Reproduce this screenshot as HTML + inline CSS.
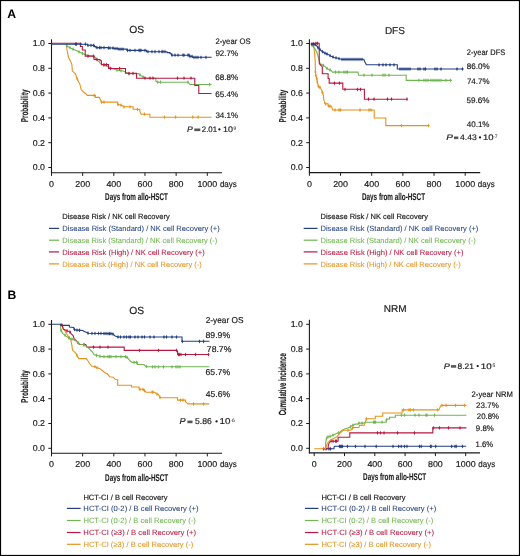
<!DOCTYPE html><html><head><meta charset="utf-8"><style>html,body{margin:0;padding:0;background:#fff;}svg{display:block;-webkit-font-smoothing:antialiased;will-change:transform;text-rendering:geometricPrecision;}</style></head><body>
<svg width="520" height="556" viewBox="0 0 520 556" font-family='"Liberation Sans", sans-serif'>
<rect x="0" y="0" width="520" height="556" fill="#fff"/>
<rect x="0.5" y="0.5" width="519" height="555" fill="none" stroke="#000" stroke-width="1.2"/>
<text x="7.2" y="17.8" font-size="12.2" font-weight="bold" fill="#000">A</text>
<text x="7.6" y="298.9" font-size="12.2" font-weight="bold" fill="#000">B</text>
<text transform="translate(136.80,33.00) scale(1.0000,1)" font-size="10.30" text-anchor="middle" fill="#1a1a1a" stroke="#1a1a1a" stroke-width="0.17" >OS</text>
<text transform="translate(394.90,33.80) scale(1.0000,1)" font-size="10.00" text-anchor="middle" fill="#1a1a1a" stroke="#1a1a1a" stroke-width="0.17" >DFS</text>
<text transform="translate(136.80,314.30) scale(1.0000,1)" font-size="10.30" text-anchor="middle" fill="#1a1a1a" stroke="#1a1a1a" stroke-width="0.17" >OS</text>
<text transform="translate(395.10,311.70) scale(1.0000,1)" font-size="10.00" text-anchor="middle" fill="#1a1a1a" stroke="#1a1a1a" stroke-width="0.17" >NRM</text>
<line x1="51.5" y1="39.3" x2="51.5" y2="173.2" stroke="#1a1a1a" stroke-width="1.1"/>
<line x1="51.0" y1="172.7" x2="222.0" y2="172.7" stroke="#1a1a1a" stroke-width="1.1"/>
<line x1="48.3" y1="167.50" x2="51.5" y2="167.50" stroke="#1a1a1a" stroke-width="1"/>
<text transform="translate(45.00,170.35) scale(1.0256,1)" font-size="8.58" text-anchor="end" fill="#1a1a1a" stroke="#1a1a1a" stroke-width="0.17" >0.0</text>
<line x1="48.3" y1="142.70" x2="51.5" y2="142.70" stroke="#1a1a1a" stroke-width="1"/>
<text transform="translate(45.00,145.55) scale(1.0256,1)" font-size="8.58" text-anchor="end" fill="#1a1a1a" stroke="#1a1a1a" stroke-width="0.17" >0.2</text>
<line x1="48.3" y1="117.90" x2="51.5" y2="117.90" stroke="#1a1a1a" stroke-width="1"/>
<text transform="translate(45.00,120.75) scale(1.0256,1)" font-size="8.58" text-anchor="end" fill="#1a1a1a" stroke="#1a1a1a" stroke-width="0.17" >0.4</text>
<line x1="48.3" y1="93.10" x2="51.5" y2="93.10" stroke="#1a1a1a" stroke-width="1"/>
<text transform="translate(45.00,95.95) scale(1.0256,1)" font-size="8.58" text-anchor="end" fill="#1a1a1a" stroke="#1a1a1a" stroke-width="0.17" >0.6</text>
<line x1="48.3" y1="68.30" x2="51.5" y2="68.30" stroke="#1a1a1a" stroke-width="1"/>
<text transform="translate(45.00,71.15) scale(1.0256,1)" font-size="8.58" text-anchor="end" fill="#1a1a1a" stroke="#1a1a1a" stroke-width="0.17" >0.8</text>
<line x1="48.3" y1="43.50" x2="51.5" y2="43.50" stroke="#1a1a1a" stroke-width="1"/>
<text transform="translate(45.00,46.35) scale(1.0256,1)" font-size="8.58" text-anchor="end" fill="#1a1a1a" stroke="#1a1a1a" stroke-width="0.17" >1.0</text>
<line x1="51.50" y1="172.7" x2="51.50" y2="175.89999999999998" stroke="#1a1a1a" stroke-width="1"/>
<text transform="translate(51.50,186.60) scale(1.0363,1)" font-size="8.59" text-anchor="middle" fill="#1a1a1a" stroke="#1a1a1a" stroke-width="0.17" >0</text>
<line x1="82.66" y1="172.7" x2="82.66" y2="175.89999999999998" stroke="#1a1a1a" stroke-width="1"/>
<text transform="translate(82.66,186.60) scale(1.0363,1)" font-size="8.59" text-anchor="middle" fill="#1a1a1a" stroke="#1a1a1a" stroke-width="0.17" >200</text>
<line x1="113.82" y1="172.7" x2="113.82" y2="175.89999999999998" stroke="#1a1a1a" stroke-width="1"/>
<text transform="translate(113.82,186.60) scale(1.0363,1)" font-size="8.59" text-anchor="middle" fill="#1a1a1a" stroke="#1a1a1a" stroke-width="0.17" >400</text>
<line x1="144.98" y1="172.7" x2="144.98" y2="175.89999999999998" stroke="#1a1a1a" stroke-width="1"/>
<text transform="translate(144.98,186.60) scale(1.0363,1)" font-size="8.59" text-anchor="middle" fill="#1a1a1a" stroke="#1a1a1a" stroke-width="0.17" >600</text>
<line x1="176.14" y1="172.7" x2="176.14" y2="175.89999999999998" stroke="#1a1a1a" stroke-width="1"/>
<text transform="translate(176.14,186.60) scale(1.0363,1)" font-size="8.59" text-anchor="middle" fill="#1a1a1a" stroke="#1a1a1a" stroke-width="0.17" >800</text>
<line x1="207.30" y1="172.7" x2="207.30" y2="175.89999999999998" stroke="#1a1a1a" stroke-width="1"/>
<text transform="translate(207.30,186.60) scale(1.0363,1)" font-size="8.59" text-anchor="middle" fill="#1a1a1a" stroke="#1a1a1a" stroke-width="0.17" >1000</text>
<text transform="translate(219.90,186.70) scale(0.9259,1)" font-size="8.64" text-anchor="start" fill="#1a1a1a" stroke="#1a1a1a" stroke-width="0.17" >days</text>
<text transform="translate(105.08,200.10) scale(0.6442,1)" font-size="9.80" font-weight="bold" fill="#1a1a1a" stroke="#1a1a1a" stroke-width="0.1">Days from allo-HSCT</text>
<text transform="translate(28.00,122.33) rotate(-90) scale(0.6359,1)" font-size="10.00" font-weight="bold" fill="#1a1a1a" stroke="#1a1a1a" stroke-width="0.15">Probability</text>
<line x1="309.4" y1="39.3" x2="309.4" y2="173.1" stroke="#1a1a1a" stroke-width="1.1"/>
<line x1="308.9" y1="172.6" x2="480.2" y2="172.6" stroke="#1a1a1a" stroke-width="1.1"/>
<line x1="306.2" y1="167.50" x2="309.4" y2="167.50" stroke="#1a1a1a" stroke-width="1"/>
<text transform="translate(302.90,170.35) scale(1.0256,1)" font-size="8.58" text-anchor="end" fill="#1a1a1a" stroke="#1a1a1a" stroke-width="0.17" >0.0</text>
<line x1="306.2" y1="142.70" x2="309.4" y2="142.70" stroke="#1a1a1a" stroke-width="1"/>
<text transform="translate(302.90,145.55) scale(1.0256,1)" font-size="8.58" text-anchor="end" fill="#1a1a1a" stroke="#1a1a1a" stroke-width="0.17" >0.2</text>
<line x1="306.2" y1="117.90" x2="309.4" y2="117.90" stroke="#1a1a1a" stroke-width="1"/>
<text transform="translate(302.90,120.75) scale(1.0256,1)" font-size="8.58" text-anchor="end" fill="#1a1a1a" stroke="#1a1a1a" stroke-width="0.17" >0.4</text>
<line x1="306.2" y1="93.10" x2="309.4" y2="93.10" stroke="#1a1a1a" stroke-width="1"/>
<text transform="translate(302.90,95.95) scale(1.0256,1)" font-size="8.58" text-anchor="end" fill="#1a1a1a" stroke="#1a1a1a" stroke-width="0.17" >0.6</text>
<line x1="306.2" y1="68.30" x2="309.4" y2="68.30" stroke="#1a1a1a" stroke-width="1"/>
<text transform="translate(302.90,71.15) scale(1.0256,1)" font-size="8.58" text-anchor="end" fill="#1a1a1a" stroke="#1a1a1a" stroke-width="0.17" >0.8</text>
<line x1="306.2" y1="43.50" x2="309.4" y2="43.50" stroke="#1a1a1a" stroke-width="1"/>
<text transform="translate(302.90,46.35) scale(1.0256,1)" font-size="8.58" text-anchor="end" fill="#1a1a1a" stroke="#1a1a1a" stroke-width="0.17" >1.0</text>
<line x1="309.40" y1="172.6" x2="309.40" y2="175.79999999999998" stroke="#1a1a1a" stroke-width="1"/>
<text transform="translate(309.40,186.50) scale(1.0363,1)" font-size="8.59" text-anchor="middle" fill="#1a1a1a" stroke="#1a1a1a" stroke-width="0.17" >0</text>
<line x1="340.56" y1="172.6" x2="340.56" y2="175.79999999999998" stroke="#1a1a1a" stroke-width="1"/>
<text transform="translate(340.56,186.50) scale(1.0363,1)" font-size="8.59" text-anchor="middle" fill="#1a1a1a" stroke="#1a1a1a" stroke-width="0.17" >200</text>
<line x1="371.72" y1="172.6" x2="371.72" y2="175.79999999999998" stroke="#1a1a1a" stroke-width="1"/>
<text transform="translate(371.72,186.50) scale(1.0363,1)" font-size="8.59" text-anchor="middle" fill="#1a1a1a" stroke="#1a1a1a" stroke-width="0.17" >400</text>
<line x1="402.88" y1="172.6" x2="402.88" y2="175.79999999999998" stroke="#1a1a1a" stroke-width="1"/>
<text transform="translate(402.88,186.50) scale(1.0363,1)" font-size="8.59" text-anchor="middle" fill="#1a1a1a" stroke="#1a1a1a" stroke-width="0.17" >600</text>
<line x1="434.04" y1="172.6" x2="434.04" y2="175.79999999999998" stroke="#1a1a1a" stroke-width="1"/>
<text transform="translate(434.04,186.50) scale(1.0363,1)" font-size="8.59" text-anchor="middle" fill="#1a1a1a" stroke="#1a1a1a" stroke-width="0.17" >800</text>
<line x1="465.20" y1="172.6" x2="465.20" y2="175.79999999999998" stroke="#1a1a1a" stroke-width="1"/>
<text transform="translate(465.20,186.50) scale(1.0363,1)" font-size="8.59" text-anchor="middle" fill="#1a1a1a" stroke="#1a1a1a" stroke-width="0.17" >1000</text>
<text transform="translate(477.80,186.60) scale(0.9259,1)" font-size="8.64" text-anchor="start" fill="#1a1a1a" stroke="#1a1a1a" stroke-width="0.17" >days</text>
<text transform="translate(361.98,200.30) scale(0.6473,1)" font-size="9.80" font-weight="bold" fill="#1a1a1a" stroke="#1a1a1a" stroke-width="0.1">Days from allo-HSCT</text>
<text transform="translate(286.00,122.53) rotate(-90) scale(0.6359,1)" font-size="10.00" font-weight="bold" fill="#1a1a1a" stroke="#1a1a1a" stroke-width="0.15">Probability</text>
<line x1="51.5" y1="320.0" x2="51.5" y2="453.7" stroke="#1a1a1a" stroke-width="1.1"/>
<line x1="51.0" y1="453.2" x2="222.0" y2="453.2" stroke="#1a1a1a" stroke-width="1.1"/>
<line x1="48.3" y1="448.30" x2="51.5" y2="448.30" stroke="#1a1a1a" stroke-width="1"/>
<text transform="translate(45.00,451.15) scale(1.0256,1)" font-size="8.58" text-anchor="end" fill="#1a1a1a" stroke="#1a1a1a" stroke-width="0.17" >0.0</text>
<line x1="48.3" y1="423.50" x2="51.5" y2="423.50" stroke="#1a1a1a" stroke-width="1"/>
<text transform="translate(45.00,426.35) scale(1.0256,1)" font-size="8.58" text-anchor="end" fill="#1a1a1a" stroke="#1a1a1a" stroke-width="0.17" >0.2</text>
<line x1="48.3" y1="398.70" x2="51.5" y2="398.70" stroke="#1a1a1a" stroke-width="1"/>
<text transform="translate(45.00,401.55) scale(1.0256,1)" font-size="8.58" text-anchor="end" fill="#1a1a1a" stroke="#1a1a1a" stroke-width="0.17" >0.4</text>
<line x1="48.3" y1="373.90" x2="51.5" y2="373.90" stroke="#1a1a1a" stroke-width="1"/>
<text transform="translate(45.00,376.75) scale(1.0256,1)" font-size="8.58" text-anchor="end" fill="#1a1a1a" stroke="#1a1a1a" stroke-width="0.17" >0.6</text>
<line x1="48.3" y1="349.10" x2="51.5" y2="349.10" stroke="#1a1a1a" stroke-width="1"/>
<text transform="translate(45.00,351.95) scale(1.0256,1)" font-size="8.58" text-anchor="end" fill="#1a1a1a" stroke="#1a1a1a" stroke-width="0.17" >0.8</text>
<line x1="48.3" y1="324.30" x2="51.5" y2="324.30" stroke="#1a1a1a" stroke-width="1"/>
<text transform="translate(45.00,327.15) scale(1.0256,1)" font-size="8.58" text-anchor="end" fill="#1a1a1a" stroke="#1a1a1a" stroke-width="0.17" >1.0</text>
<line x1="51.50" y1="453.2" x2="51.50" y2="456.4" stroke="#1a1a1a" stroke-width="1"/>
<text transform="translate(51.50,467.10) scale(1.0363,1)" font-size="8.59" text-anchor="middle" fill="#1a1a1a" stroke="#1a1a1a" stroke-width="0.17" >0</text>
<line x1="82.66" y1="453.2" x2="82.66" y2="456.4" stroke="#1a1a1a" stroke-width="1"/>
<text transform="translate(82.66,467.10) scale(1.0363,1)" font-size="8.59" text-anchor="middle" fill="#1a1a1a" stroke="#1a1a1a" stroke-width="0.17" >200</text>
<line x1="113.82" y1="453.2" x2="113.82" y2="456.4" stroke="#1a1a1a" stroke-width="1"/>
<text transform="translate(113.82,467.10) scale(1.0363,1)" font-size="8.59" text-anchor="middle" fill="#1a1a1a" stroke="#1a1a1a" stroke-width="0.17" >400</text>
<line x1="144.98" y1="453.2" x2="144.98" y2="456.4" stroke="#1a1a1a" stroke-width="1"/>
<text transform="translate(144.98,467.10) scale(1.0363,1)" font-size="8.59" text-anchor="middle" fill="#1a1a1a" stroke="#1a1a1a" stroke-width="0.17" >600</text>
<line x1="176.14" y1="453.2" x2="176.14" y2="456.4" stroke="#1a1a1a" stroke-width="1"/>
<text transform="translate(176.14,467.10) scale(1.0363,1)" font-size="8.59" text-anchor="middle" fill="#1a1a1a" stroke="#1a1a1a" stroke-width="0.17" >800</text>
<line x1="207.30" y1="453.2" x2="207.30" y2="456.4" stroke="#1a1a1a" stroke-width="1"/>
<text transform="translate(207.30,467.10) scale(1.0363,1)" font-size="8.59" text-anchor="middle" fill="#1a1a1a" stroke="#1a1a1a" stroke-width="0.17" >1000</text>
<text transform="translate(219.90,467.20) scale(0.9259,1)" font-size="8.64" text-anchor="start" fill="#1a1a1a" stroke="#1a1a1a" stroke-width="0.17" >days</text>
<text transform="translate(105.08,480.70) scale(0.6473,1)" font-size="9.80" font-weight="bold" fill="#1a1a1a" stroke="#1a1a1a" stroke-width="0.1">Days from allo-HSCT</text>
<text transform="translate(28.00,402.72) rotate(-90) scale(0.6280,1)" font-size="10.00" font-weight="bold" fill="#1a1a1a" stroke="#1a1a1a" stroke-width="0.15">Probability</text>
<line x1="309.4" y1="319.8" x2="309.4" y2="453.4" stroke="#1a1a1a" stroke-width="1.1"/>
<line x1="308.9" y1="452.9" x2="480.0" y2="452.9" stroke="#1a1a1a" stroke-width="1.1"/>
<line x1="306.2" y1="448.30" x2="309.4" y2="448.30" stroke="#1a1a1a" stroke-width="1"/>
<text transform="translate(302.90,451.15) scale(1.0256,1)" font-size="8.58" text-anchor="end" fill="#1a1a1a" stroke="#1a1a1a" stroke-width="0.17" >0.0</text>
<line x1="306.2" y1="423.50" x2="309.4" y2="423.50" stroke="#1a1a1a" stroke-width="1"/>
<text transform="translate(302.90,426.35) scale(1.0256,1)" font-size="8.58" text-anchor="end" fill="#1a1a1a" stroke="#1a1a1a" stroke-width="0.17" >0.2</text>
<line x1="306.2" y1="398.70" x2="309.4" y2="398.70" stroke="#1a1a1a" stroke-width="1"/>
<text transform="translate(302.90,401.55) scale(1.0256,1)" font-size="8.58" text-anchor="end" fill="#1a1a1a" stroke="#1a1a1a" stroke-width="0.17" >0.4</text>
<line x1="306.2" y1="373.90" x2="309.4" y2="373.90" stroke="#1a1a1a" stroke-width="1"/>
<text transform="translate(302.90,376.75) scale(1.0256,1)" font-size="8.58" text-anchor="end" fill="#1a1a1a" stroke="#1a1a1a" stroke-width="0.17" >0.6</text>
<line x1="306.2" y1="349.10" x2="309.4" y2="349.10" stroke="#1a1a1a" stroke-width="1"/>
<text transform="translate(302.90,351.95) scale(1.0256,1)" font-size="8.58" text-anchor="end" fill="#1a1a1a" stroke="#1a1a1a" stroke-width="0.17" >0.8</text>
<line x1="306.2" y1="324.30" x2="309.4" y2="324.30" stroke="#1a1a1a" stroke-width="1"/>
<text transform="translate(302.90,327.15) scale(1.0256,1)" font-size="8.58" text-anchor="end" fill="#1a1a1a" stroke="#1a1a1a" stroke-width="0.17" >1.0</text>
<line x1="314.20" y1="452.9" x2="314.20" y2="456.09999999999997" stroke="#1a1a1a" stroke-width="1"/>
<text transform="translate(314.20,466.80) scale(1.0363,1)" font-size="8.59" text-anchor="middle" fill="#1a1a1a" stroke="#1a1a1a" stroke-width="0.17" >0</text>
<line x1="344.50" y1="452.9" x2="344.50" y2="456.09999999999997" stroke="#1a1a1a" stroke-width="1"/>
<text transform="translate(344.50,466.80) scale(1.0363,1)" font-size="8.59" text-anchor="middle" fill="#1a1a1a" stroke="#1a1a1a" stroke-width="0.17" >200</text>
<line x1="374.80" y1="452.9" x2="374.80" y2="456.09999999999997" stroke="#1a1a1a" stroke-width="1"/>
<text transform="translate(374.80,466.80) scale(1.0363,1)" font-size="8.59" text-anchor="middle" fill="#1a1a1a" stroke="#1a1a1a" stroke-width="0.17" >400</text>
<line x1="405.10" y1="452.9" x2="405.10" y2="456.09999999999997" stroke="#1a1a1a" stroke-width="1"/>
<text transform="translate(405.10,466.80) scale(1.0363,1)" font-size="8.59" text-anchor="middle" fill="#1a1a1a" stroke="#1a1a1a" stroke-width="0.17" >600</text>
<line x1="435.40" y1="452.9" x2="435.40" y2="456.09999999999997" stroke="#1a1a1a" stroke-width="1"/>
<text transform="translate(435.40,466.80) scale(1.0363,1)" font-size="8.59" text-anchor="middle" fill="#1a1a1a" stroke="#1a1a1a" stroke-width="0.17" >800</text>
<line x1="465.70" y1="452.9" x2="465.70" y2="456.09999999999997" stroke="#1a1a1a" stroke-width="1"/>
<text transform="translate(465.70,466.80) scale(1.0363,1)" font-size="8.59" text-anchor="middle" fill="#1a1a1a" stroke="#1a1a1a" stroke-width="0.17" >1000</text>
<text transform="translate(478.30,466.90) scale(0.9259,1)" font-size="8.64" text-anchor="start" fill="#1a1a1a" stroke="#1a1a1a" stroke-width="0.17" >days</text>
<text transform="translate(363.08,480.40) scale(0.6473,1)" font-size="9.80" font-weight="bold" fill="#1a1a1a" stroke="#1a1a1a" stroke-width="0.1">Days from allo-HSCT</text>
<text transform="translate(285.90,415.25) rotate(-90) scale(0.5804,1)" font-size="10.40" font-weight="bold" fill="#1a1a1a" stroke="#1a1a1a" stroke-width="0.15">Cumulative incidence</text>
<path d="M66.00,44.00 L66.50,44.00 L67.00,50.00 L68.50,57.20 L70.40,61.00 L71.90,64.60 L72.30,70.80 L75.40,73.80 L77.30,79.20 L80.00,84.60 L81.20,89.60 L83.80,92.30 L86.50,94.20 L87.30,95.40 L95.40,95.40 L95.40,97.40 L99.40,97.40 L101.40,102.10 L117.60,102.10 L117.60,104.40 L122.30,105.50 L123.60,106.80 L133.10,106.80 L133.10,109.30 L139.80,109.30 L139.80,111.10 L141.10,114.20 L149.90,114.20 L149.90,117.20 L211.60,117.20" fill="none" stroke="#e4931e" stroke-width="1.1" stroke-linejoin="miter"/>
<path d="M77.30,77.10 L77.85,78.30 L78.20,79.20 L77.85,80.10 L77.30,81.30 L76.75,80.10 L76.40,79.20 L76.75,78.30Z" fill="#e4931e"/>
<path d="M94.20,93.30 L94.75,94.50 L95.10,95.40 L94.75,96.30 L94.20,97.50 L93.65,96.30 L93.30,95.40 L93.65,94.50Z" fill="#e4931e"/>
<path d="M101.50,100.00 L102.05,101.20 L102.40,102.10 L102.05,103.00 L101.50,104.20 L100.95,103.00 L100.60,102.10 L100.95,101.20Z" fill="#e4931e"/>
<path d="M104.00,100.00 L104.55,101.20 L104.90,102.10 L104.55,103.00 L104.00,104.20 L103.45,103.00 L103.10,102.10 L103.45,101.20Z" fill="#e4931e"/>
<path d="M118.00,102.39 L118.55,103.59 L118.90,104.49 L118.55,105.39 L118.00,106.59 L117.45,105.39 L117.10,104.49 L117.45,103.59Z" fill="#e4931e"/>
<path d="M121.00,103.10 L121.55,104.30 L121.90,105.20 L121.55,106.10 L121.00,107.30 L120.45,106.10 L120.10,105.20 L120.45,104.30Z" fill="#e4931e"/>
<path d="M124.00,104.70 L124.55,105.90 L124.90,106.80 L124.55,107.70 L124.00,108.90 L123.45,107.70 L123.10,106.80 L123.45,105.90Z" fill="#e4931e"/>
<path d="M130.00,104.70 L130.55,105.90 L130.90,106.80 L130.55,107.70 L130.00,108.90 L129.45,107.70 L129.10,106.80 L129.45,105.90Z" fill="#e4931e"/>
<path d="M137.50,107.20 L138.05,108.40 L138.40,109.30 L138.05,110.20 L137.50,111.40 L136.95,110.20 L136.60,109.30 L136.95,108.40Z" fill="#e4931e"/>
<path d="M144.50,112.10 L145.05,113.30 L145.40,114.20 L145.05,115.10 L144.50,116.30 L143.95,115.10 L143.60,114.20 L143.95,113.30Z" fill="#e4931e"/>
<path d="M164.50,115.10 L165.05,116.30 L165.40,117.20 L165.05,118.10 L164.50,119.30 L163.95,118.10 L163.60,117.20 L163.95,116.30Z" fill="#e4931e"/>
<path d="M175.60,115.10 L176.15,116.30 L176.50,117.20 L176.15,118.10 L175.60,119.30 L175.05,118.10 L174.70,117.20 L175.05,116.30Z" fill="#e4931e"/>
<path d="M192.80,115.10 L193.35,116.30 L193.70,117.20 L193.35,118.10 L192.80,119.30 L192.25,118.10 L191.90,117.20 L192.25,116.30Z" fill="#e4931e"/>
<path d="M198.20,115.10 L198.75,116.30 L199.10,117.20 L198.75,118.10 L198.20,119.30 L197.65,118.10 L197.30,117.20 L197.65,116.30Z" fill="#e4931e"/>
<path d="M66.00,44.00 L66.50,44.00 L66.50,45.70 L69.00,47.20 L72.30,48.90 L76.20,50.50 L80.00,52.30 L81.50,53.00 L84.60,54.50 L90.00,55.70 L94.20,56.50 L96.50,59.20 L100.40,63.40 L104.20,65.30 L109.60,67.20 L116.30,69.90 L124.00,71.30 L128.80,73.80 L136.50,73.60 L138.50,73.60 L142.30,76.60 L145.20,78.10 L155.80,78.20 L155.80,81.20 L157.80,82.20 L188.00,82.20 L190.00,84.50 L211.60,84.50" fill="none" stroke="#70b551" stroke-width="1.1" stroke-linejoin="miter"/>
<path d="M66.80,43.78 L67.35,44.98 L67.70,45.88 L67.35,46.78 L66.80,47.98 L66.25,46.78 L65.90,45.88 L66.25,44.98Z" fill="#70b551"/>
<path d="M70.00,45.62 L70.55,46.82 L70.90,47.72 L70.55,48.62 L70.00,49.82 L69.45,48.62 L69.10,47.72 L69.45,46.82Z" fill="#70b551"/>
<path d="M73.00,47.09 L73.55,48.29 L73.90,49.19 L73.55,50.09 L73.00,51.29 L72.45,50.09 L72.10,49.19 L72.45,48.29Z" fill="#70b551"/>
<path d="M79.00,49.73 L79.55,50.93 L79.90,51.83 L79.55,52.73 L79.00,53.93 L78.45,52.73 L78.10,51.83 L78.45,50.93Z" fill="#70b551"/>
<path d="M82.50,51.38 L83.05,52.58 L83.40,53.48 L83.05,54.38 L82.50,55.58 L81.95,54.38 L81.60,53.48 L81.95,52.58Z" fill="#70b551"/>
<path d="M96.00,56.51 L96.55,57.71 L96.90,58.61 L96.55,59.51 L96.00,60.71 L95.45,59.51 L95.10,58.61 L95.45,57.71Z" fill="#70b551"/>
<path d="M104.00,63.10 L104.55,64.30 L104.90,65.20 L104.55,66.10 L104.00,67.30 L103.45,66.10 L103.10,65.20 L103.45,64.30Z" fill="#70b551"/>
<path d="M117.00,67.93 L117.55,69.13 L117.90,70.03 L117.55,70.93 L117.00,72.13 L116.45,70.93 L116.10,70.03 L116.45,69.13Z" fill="#70b551"/>
<path d="M121.00,68.65 L121.55,69.85 L121.90,70.75 L121.55,71.65 L121.00,72.85 L120.45,71.65 L120.10,70.75 L120.45,69.85Z" fill="#70b551"/>
<path d="M129.00,71.69 L129.55,72.89 L129.90,73.79 L129.55,74.69 L129.00,75.89 L128.45,74.69 L128.10,73.79 L128.45,72.89Z" fill="#70b551"/>
<path d="M140.00,72.68 L140.55,73.88 L140.90,74.78 L140.55,75.68 L140.00,76.88 L139.45,75.68 L139.10,74.78 L139.45,73.88Z" fill="#70b551"/>
<path d="M143.00,74.86 L143.55,76.06 L143.90,76.96 L143.55,77.86 L143.00,79.06 L142.45,77.86 L142.10,76.96 L142.45,76.06Z" fill="#70b551"/>
<path d="M157.80,80.10 L158.35,81.30 L158.70,82.20 L158.35,83.10 L157.80,84.30 L157.25,83.10 L156.90,82.20 L157.25,81.30Z" fill="#70b551"/>
<path d="M160.50,80.10 L161.05,81.30 L161.40,82.20 L161.05,83.10 L160.50,84.30 L159.95,83.10 L159.60,82.20 L159.95,81.30Z" fill="#70b551"/>
<path d="M188.00,80.10 L188.55,81.30 L188.90,82.20 L188.55,83.10 L188.00,84.30 L187.45,83.10 L187.10,82.20 L187.45,81.30Z" fill="#70b551"/>
<path d="M209.60,82.40 L210.15,83.60 L210.50,84.50 L210.15,85.40 L209.60,86.60 L209.05,85.40 L208.70,84.50 L209.05,83.60Z" fill="#70b551"/>
<path d="M51.50,43.30 L80.40,43.30 L80.40,46.50 L82.30,46.50 L82.30,50.00 L85.20,50.00 L85.20,56.10 L94.00,56.10 L94.00,59.50 L100.00,59.50 L100.00,60.70 L101.40,60.70 L101.40,64.60 L108.50,64.60 L108.50,68.50 L125.50,68.50 L125.50,73.30 L136.50,73.30 L136.50,78.20 L194.80,78.20 L194.80,85.50 L198.80,85.50 L198.80,93.50 L211.60,93.50 L211.60,93.50" fill="none" stroke="#b8173f" stroke-width="1.1" stroke-linejoin="miter"/>
<path d="M88.00,54.00 L88.55,55.20 L88.90,56.10 L88.55,57.00 L88.00,58.20 L87.45,57.00 L87.10,56.10 L87.45,55.20Z" fill="#b8173f"/>
<path d="M93.50,54.00 L94.05,55.20 L94.40,56.10 L94.05,57.00 L93.50,58.20 L92.95,57.00 L92.60,56.10 L92.95,55.20Z" fill="#b8173f"/>
<path d="M97.00,57.40 L97.55,58.60 L97.90,59.50 L97.55,60.40 L97.00,61.60 L96.45,60.40 L96.10,59.50 L96.45,58.60Z" fill="#b8173f"/>
<path d="M104.00,62.50 L104.55,63.70 L104.90,64.60 L104.55,65.50 L104.00,66.70 L103.45,65.50 L103.10,64.60 L103.45,63.70Z" fill="#b8173f"/>
<path d="M106.50,62.50 L107.05,63.70 L107.40,64.60 L107.05,65.50 L106.50,66.70 L105.95,65.50 L105.60,64.60 L105.95,63.70Z" fill="#b8173f"/>
<path d="M110.50,66.40 L111.05,67.60 L111.40,68.50 L111.05,69.40 L110.50,70.60 L109.95,69.40 L109.60,68.50 L109.95,67.60Z" fill="#b8173f"/>
<path d="M119.60,66.40 L120.15,67.60 L120.50,68.50 L120.15,69.40 L119.60,70.60 L119.05,69.40 L118.70,68.50 L119.05,67.60Z" fill="#b8173f"/>
<path d="M129.00,71.20 L129.55,72.40 L129.90,73.30 L129.55,74.20 L129.00,75.40 L128.45,74.20 L128.10,73.30 L128.45,72.40Z" fill="#b8173f"/>
<path d="M133.00,71.20 L133.55,72.40 L133.90,73.30 L133.55,74.20 L133.00,75.40 L132.45,74.20 L132.10,73.30 L132.45,72.40Z" fill="#b8173f"/>
<path d="M145.00,76.10 L145.55,77.30 L145.90,78.20 L145.55,79.10 L145.00,80.30 L144.45,79.10 L144.10,78.20 L144.45,77.30Z" fill="#b8173f"/>
<path d="M150.00,76.10 L150.55,77.30 L150.90,78.20 L150.55,79.10 L150.00,80.30 L149.45,79.10 L149.10,78.20 L149.45,77.30Z" fill="#b8173f"/>
<path d="M153.00,76.10 L153.55,77.30 L153.90,78.20 L153.55,79.10 L153.00,80.30 L152.45,79.10 L152.10,78.20 L152.45,77.30Z" fill="#b8173f"/>
<path d="M177.50,76.10 L178.05,77.30 L178.40,78.20 L178.05,79.10 L177.50,80.30 L176.95,79.10 L176.60,78.20 L176.95,77.30Z" fill="#b8173f"/>
<path d="M184.00,76.10 L184.55,77.30 L184.90,78.20 L184.55,79.10 L184.00,80.30 L183.45,79.10 L183.10,78.20 L183.45,77.30Z" fill="#b8173f"/>
<path d="M191.00,76.10 L191.55,77.30 L191.90,78.20 L191.55,79.10 L191.00,80.30 L190.45,79.10 L190.10,78.20 L190.45,77.30Z" fill="#b8173f"/>
<path d="M51.50,44.20 L87.50,44.20 L87.50,45.30 L94.50,45.30 L94.50,46.60 L96.00,46.60 L96.00,47.60 L108.00,47.60 L108.00,48.00 L113.00,48.00 L113.00,48.50 L118.00,48.50 L118.00,49.10 L127.00,49.10 L127.00,50.40 L146.50,50.40 L146.50,51.70 L167.00,51.70 L167.00,52.60 L170.00,52.60 L170.00,53.80 L171.50,53.80 L171.50,55.20 L189.50,55.20 L189.50,56.40 L192.50,56.40 L192.50,57.30 L211.60,57.30 L211.60,57.30" fill="none" stroke="#233f80" stroke-width="1.1" stroke-linejoin="miter"/>
<path d="M75.40,42.10 L75.95,43.30 L76.30,44.20 L75.95,45.10 L75.40,46.30 L74.85,45.10 L74.50,44.20 L74.85,43.30Z" fill="#233f80"/>
<path d="M76.50,42.10 L77.05,43.30 L77.40,44.20 L77.05,45.10 L76.50,46.30 L75.95,45.10 L75.60,44.20 L75.95,43.30Z" fill="#233f80"/>
<path d="M80.80,42.10 L81.35,43.30 L81.70,44.20 L81.35,45.10 L80.80,46.30 L80.25,45.10 L79.90,44.20 L80.25,43.30Z" fill="#233f80"/>
<path d="M85.40,42.10 L85.95,43.30 L86.30,44.20 L85.95,45.10 L85.40,46.30 L84.85,45.10 L84.50,44.20 L84.85,43.30Z" fill="#233f80"/>
<path d="M88.00,43.20 L88.55,44.40 L88.90,45.30 L88.55,46.20 L88.00,47.40 L87.45,46.20 L87.10,45.30 L87.45,44.40Z" fill="#233f80"/>
<path d="M91.00,43.20 L91.55,44.40 L91.90,45.30 L91.55,46.20 L91.00,47.40 L90.45,46.20 L90.10,45.30 L90.45,44.40Z" fill="#233f80"/>
<path d="M93.50,43.20 L94.05,44.40 L94.40,45.30 L94.05,46.20 L93.50,47.40 L92.95,46.20 L92.60,45.30 L92.95,44.40Z" fill="#233f80"/>
<path d="M97.00,45.50 L97.55,46.70 L97.90,47.60 L97.55,48.50 L97.00,49.70 L96.45,48.50 L96.10,47.60 L96.45,46.70Z" fill="#233f80"/>
<path d="M99.50,45.50 L100.05,46.70 L100.40,47.60 L100.05,48.50 L99.50,49.70 L98.95,48.50 L98.60,47.60 L98.95,46.70Z" fill="#233f80"/>
<path d="M101.00,45.50 L101.55,46.70 L101.90,47.60 L101.55,48.50 L101.00,49.70 L100.45,48.50 L100.10,47.60 L100.45,46.70Z" fill="#233f80"/>
<path d="M104.00,45.50 L104.55,46.70 L104.90,47.60 L104.55,48.50 L104.00,49.70 L103.45,48.50 L103.10,47.60 L103.45,46.70Z" fill="#233f80"/>
<path d="M108.50,45.90 L109.05,47.10 L109.40,48.00 L109.05,48.90 L108.50,50.10 L107.95,48.90 L107.60,48.00 L107.95,47.10Z" fill="#233f80"/>
<path d="M110.00,45.90 L110.55,47.10 L110.90,48.00 L110.55,48.90 L110.00,50.10 L109.45,48.90 L109.10,48.00 L109.45,47.10Z" fill="#233f80"/>
<path d="M113.00,45.90 L113.55,47.10 L113.90,48.00 L113.55,48.90 L113.00,50.10 L112.45,48.90 L112.10,48.00 L112.45,47.10Z" fill="#233f80"/>
<path d="M115.00,46.40 L115.55,47.60 L115.90,48.50 L115.55,49.40 L115.00,50.60 L114.45,49.40 L114.10,48.50 L114.45,47.60Z" fill="#233f80"/>
<path d="M117.00,46.40 L117.55,47.60 L117.90,48.50 L117.55,49.40 L117.00,50.60 L116.45,49.40 L116.10,48.50 L116.45,47.60Z" fill="#233f80"/>
<path d="M119.00,47.00 L119.55,48.20 L119.90,49.10 L119.55,50.00 L119.00,51.20 L118.45,50.00 L118.10,49.10 L118.45,48.20Z" fill="#233f80"/>
<path d="M121.00,47.00 L121.55,48.20 L121.90,49.10 L121.55,50.00 L121.00,51.20 L120.45,50.00 L120.10,49.10 L120.45,48.20Z" fill="#233f80"/>
<path d="M123.00,47.00 L123.55,48.20 L123.90,49.10 L123.55,50.00 L123.00,51.20 L122.45,50.00 L122.10,49.10 L122.45,48.20Z" fill="#233f80"/>
<path d="M127.50,48.30 L128.05,49.50 L128.40,50.40 L128.05,51.30 L127.50,52.50 L126.95,51.30 L126.60,50.40 L126.95,49.50Z" fill="#233f80"/>
<path d="M130.00,48.30 L130.55,49.50 L130.90,50.40 L130.55,51.30 L130.00,52.50 L129.45,51.30 L129.10,50.40 L129.45,49.50Z" fill="#233f80"/>
<path d="M135.00,48.30 L135.55,49.50 L135.90,50.40 L135.55,51.30 L135.00,52.50 L134.45,51.30 L134.10,50.40 L134.45,49.50Z" fill="#233f80"/>
<path d="M139.00,48.30 L139.55,49.50 L139.90,50.40 L139.55,51.30 L139.00,52.50 L138.45,51.30 L138.10,50.40 L138.45,49.50Z" fill="#233f80"/>
<path d="M140.00,48.30 L140.55,49.50 L140.90,50.40 L140.55,51.30 L140.00,52.50 L139.45,51.30 L139.10,50.40 L139.45,49.50Z" fill="#233f80"/>
<path d="M141.00,48.30 L141.55,49.50 L141.90,50.40 L141.55,51.30 L141.00,52.50 L140.45,51.30 L140.10,50.40 L140.45,49.50Z" fill="#233f80"/>
<path d="M145.00,48.30 L145.55,49.50 L145.90,50.40 L145.55,51.30 L145.00,52.50 L144.45,51.30 L144.10,50.40 L144.45,49.50Z" fill="#233f80"/>
<path d="M148.00,49.60 L148.55,50.80 L148.90,51.70 L148.55,52.60 L148.00,53.80 L147.45,52.60 L147.10,51.70 L147.45,50.80Z" fill="#233f80"/>
<path d="M152.00,49.60 L152.55,50.80 L152.90,51.70 L152.55,52.60 L152.00,53.80 L151.45,52.60 L151.10,51.70 L151.45,50.80Z" fill="#233f80"/>
<path d="M155.00,49.60 L155.55,50.80 L155.90,51.70 L155.55,52.60 L155.00,53.80 L154.45,52.60 L154.10,51.70 L154.45,50.80Z" fill="#233f80"/>
<path d="M159.00,49.60 L159.55,50.80 L159.90,51.70 L159.55,52.60 L159.00,53.80 L158.45,52.60 L158.10,51.70 L158.45,50.80Z" fill="#233f80"/>
<path d="M162.00,49.60 L162.55,50.80 L162.90,51.70 L162.55,52.60 L162.00,53.80 L161.45,52.60 L161.10,51.70 L161.45,50.80Z" fill="#233f80"/>
<path d="M163.00,49.60 L163.55,50.80 L163.90,51.70 L163.55,52.60 L163.00,53.80 L162.45,52.60 L162.10,51.70 L162.45,50.80Z" fill="#233f80"/>
<path d="M165.00,49.60 L165.55,50.80 L165.90,51.70 L165.55,52.60 L165.00,53.80 L164.45,52.60 L164.10,51.70 L164.45,50.80Z" fill="#233f80"/>
<path d="M172.00,53.10 L172.55,54.30 L172.90,55.20 L172.55,56.10 L172.00,57.30 L171.45,56.10 L171.10,55.20 L171.45,54.30Z" fill="#233f80"/>
<path d="M175.00,53.10 L175.55,54.30 L175.90,55.20 L175.55,56.10 L175.00,57.30 L174.45,56.10 L174.10,55.20 L174.45,54.30Z" fill="#233f80"/>
<path d="M178.00,53.10 L178.55,54.30 L178.90,55.20 L178.55,56.10 L178.00,57.30 L177.45,56.10 L177.10,55.20 L177.45,54.30Z" fill="#233f80"/>
<path d="M183.00,53.10 L183.55,54.30 L183.90,55.20 L183.55,56.10 L183.00,57.30 L182.45,56.10 L182.10,55.20 L182.45,54.30Z" fill="#233f80"/>
<path d="M184.00,53.10 L184.55,54.30 L184.90,55.20 L184.55,56.10 L184.00,57.30 L183.45,56.10 L183.10,55.20 L183.45,54.30Z" fill="#233f80"/>
<path d="M188.00,53.10 L188.55,54.30 L188.90,55.20 L188.55,56.10 L188.00,57.30 L187.45,56.10 L187.10,55.20 L187.45,54.30Z" fill="#233f80"/>
<path d="M189.00,53.10 L189.55,54.30 L189.90,55.20 L189.55,56.10 L189.00,57.30 L188.45,56.10 L188.10,55.20 L188.45,54.30Z" fill="#233f80"/>
<path d="M190.00,54.30 L190.55,55.50 L190.90,56.40 L190.55,57.30 L190.00,58.50 L189.45,57.30 L189.10,56.40 L189.45,55.50Z" fill="#233f80"/>
<path d="M192.00,54.30 L192.55,55.50 L192.90,56.40 L192.55,57.30 L192.00,58.50 L191.45,57.30 L191.10,56.40 L191.45,55.50Z" fill="#233f80"/>
<path d="M194.00,55.20 L194.55,56.40 L194.90,57.30 L194.55,58.20 L194.00,59.40 L193.45,58.20 L193.10,57.30 L193.45,56.40Z" fill="#233f80"/>
<path d="M196.00,55.20 L196.55,56.40 L196.90,57.30 L196.55,58.20 L196.00,59.40 L195.45,58.20 L195.10,57.30 L195.45,56.40Z" fill="#233f80"/>
<path d="M198.00,55.20 L198.55,56.40 L198.90,57.30 L198.55,58.20 L198.00,59.40 L197.45,58.20 L197.10,57.30 L197.45,56.40Z" fill="#233f80"/>
<path d="M201.00,55.20 L201.55,56.40 L201.90,57.30 L201.55,58.20 L201.00,59.40 L200.45,58.20 L200.10,57.30 L200.45,56.40Z" fill="#233f80"/>
<path d="M206.00,55.20 L206.55,56.40 L206.90,57.30 L206.55,58.20 L206.00,59.40 L205.45,58.20 L205.10,57.30 L205.45,56.40Z" fill="#233f80"/>
<path d="M310.80,44.20 L311.00,44.20 L313.80,47.20 L314.60,53.40 L315.20,61.00 L315.40,71.50 L315.80,75.40 L316.90,78.50 L317.30,82.30 L318.50,86.20 L320.40,87.30 L321.50,90.00 L322.70,92.30 L323.50,96.20 L323.80,100.00 L325.00,103.80 L328.10,103.80 L328.10,106.20 L331.60,106.20 L332.50,110.00 L374.20,110.00 L374.20,118.00 L385.80,118.00 L385.80,125.60 L429.20,125.60" fill="none" stroke="#e4931e" stroke-width="1.1" stroke-linejoin="miter"/>
<path d="M315.40,69.90 L315.95,71.10 L316.30,72.00 L315.95,72.90 L315.40,74.10 L314.85,72.90 L314.50,72.00 L314.85,71.10Z" fill="#e4931e"/>
<path d="M315.80,73.40 L316.35,74.60 L316.70,75.50 L316.35,76.40 L315.80,77.60 L315.25,76.40 L314.90,75.50 L315.25,74.60Z" fill="#e4931e"/>
<path d="M316.70,76.40 L317.25,77.60 L317.60,78.50 L317.25,79.40 L316.70,80.60 L316.15,79.40 L315.80,78.50 L316.15,77.60Z" fill="#e4931e"/>
<path d="M317.40,80.10 L317.95,81.30 L318.30,82.20 L317.95,83.10 L317.40,84.30 L316.85,83.10 L316.50,82.20 L316.85,81.30Z" fill="#e4931e"/>
<path d="M318.30,84.30 L318.85,85.50 L319.20,86.40 L318.85,87.30 L318.30,88.50 L317.75,87.30 L317.40,86.40 L317.75,85.50Z" fill="#e4931e"/>
<path d="M319.80,85.30 L320.35,86.50 L320.70,87.40 L320.35,88.30 L319.80,89.50 L319.25,88.30 L318.90,87.40 L319.25,86.50Z" fill="#e4931e"/>
<path d="M322.30,90.50 L322.85,91.70 L323.20,92.60 L322.85,93.50 L322.30,94.70 L321.75,93.50 L321.40,92.60 L321.75,91.70Z" fill="#e4931e"/>
<path d="M325.80,101.70 L326.35,102.90 L326.70,103.80 L326.35,104.70 L325.80,105.90 L325.25,104.70 L324.90,103.80 L325.25,102.90Z" fill="#e4931e"/>
<path d="M329.00,104.10 L329.55,105.30 L329.90,106.20 L329.55,107.10 L329.00,108.30 L328.45,107.10 L328.10,106.20 L328.45,105.30Z" fill="#e4931e"/>
<path d="M330.00,104.10 L330.55,105.30 L330.90,106.20 L330.55,107.10 L330.00,108.30 L329.45,107.10 L329.10,106.20 L329.45,105.30Z" fill="#e4931e"/>
<path d="M335.00,107.90 L335.55,109.10 L335.90,110.00 L335.55,110.90 L335.00,112.10 L334.45,110.90 L334.10,110.00 L334.45,109.10Z" fill="#e4931e"/>
<path d="M339.00,107.90 L339.55,109.10 L339.90,110.00 L339.55,110.90 L339.00,112.10 L338.45,110.90 L338.10,110.00 L338.45,109.10Z" fill="#e4931e"/>
<path d="M340.50,107.90 L341.05,109.10 L341.40,110.00 L341.05,110.90 L340.50,112.10 L339.95,110.90 L339.60,110.00 L339.95,109.10Z" fill="#e4931e"/>
<path d="M360.00,107.90 L360.55,109.10 L360.90,110.00 L360.55,110.90 L360.00,112.10 L359.45,110.90 L359.10,110.00 L359.45,109.10Z" fill="#e4931e"/>
<path d="M369.00,107.90 L369.55,109.10 L369.90,110.00 L369.55,110.90 L369.00,112.10 L368.45,110.90 L368.10,110.00 L368.45,109.10Z" fill="#e4931e"/>
<path d="M371.00,107.90 L371.55,109.10 L371.90,110.00 L371.55,110.90 L371.00,112.10 L370.45,110.90 L370.10,110.00 L370.45,109.10Z" fill="#e4931e"/>
<path d="M401.50,123.50 L402.05,124.70 L402.40,125.60 L402.05,126.50 L401.50,127.70 L400.95,126.50 L400.60,125.60 L400.95,124.70Z" fill="#e4931e"/>
<path d="M428.50,123.50 L429.05,124.70 L429.40,125.60 L429.05,126.50 L428.50,127.70 L427.95,126.50 L427.60,125.60 L427.95,124.70Z" fill="#e4931e"/>
<path d="M310.80,44.20 L311.00,44.20 L313.50,46.50 L315.80,50.30 L317.30,53.40 L318.50,58.00 L319.20,61.00 L320.00,63.50 L323.50,65.40 L325.80,67.30 L328.10,69.20 L331.20,70.40 L332.50,72.10 L358.00,72.10 L358.50,75.20 L406.20,75.20 L406.20,80.40 L451.80,80.40" fill="none" stroke="#70b551" stroke-width="1.1" stroke-linejoin="miter"/>
<path d="M312.00,43.02 L312.55,44.22 L312.90,45.12 L312.55,46.02 L312.00,47.22 L311.45,46.02 L311.10,45.12 L311.45,44.22Z" fill="#70b551"/>
<path d="M323.50,63.30 L324.05,64.50 L324.40,65.40 L324.05,66.30 L323.50,67.50 L322.95,66.30 L322.60,65.40 L322.95,64.50Z" fill="#70b551"/>
<path d="M327.00,66.19 L327.55,67.39 L327.90,68.29 L327.55,69.19 L327.00,70.39 L326.45,69.19 L326.10,68.29 L326.45,67.39Z" fill="#70b551"/>
<path d="M330.00,67.84 L330.55,69.04 L330.90,69.94 L330.55,70.84 L330.00,72.04 L329.45,70.84 L329.10,69.94 L329.45,69.04Z" fill="#70b551"/>
<path d="M335.50,70.00 L336.05,71.20 L336.40,72.10 L336.05,73.00 L335.50,74.20 L334.95,73.00 L334.60,72.10 L334.95,71.20Z" fill="#70b551"/>
<path d="M339.00,70.00 L339.55,71.20 L339.90,72.10 L339.55,73.00 L339.00,74.20 L338.45,73.00 L338.10,72.10 L338.45,71.20Z" fill="#70b551"/>
<path d="M344.00,70.00 L344.55,71.20 L344.90,72.10 L344.55,73.00 L344.00,74.20 L343.45,73.00 L343.10,72.10 L343.45,71.20Z" fill="#70b551"/>
<path d="M346.00,70.00 L346.55,71.20 L346.90,72.10 L346.55,73.00 L346.00,74.20 L345.45,73.00 L345.10,72.10 L345.45,71.20Z" fill="#70b551"/>
<path d="M347.50,70.00 L348.05,71.20 L348.40,72.10 L348.05,73.00 L347.50,74.20 L346.95,73.00 L346.60,72.10 L346.95,71.20Z" fill="#70b551"/>
<path d="M364.00,73.10 L364.55,74.30 L364.90,75.20 L364.55,76.10 L364.00,77.30 L363.45,76.10 L363.10,75.20 L363.45,74.30Z" fill="#70b551"/>
<path d="M372.00,73.10 L372.55,74.30 L372.90,75.20 L372.55,76.10 L372.00,77.30 L371.45,76.10 L371.10,75.20 L371.45,74.30Z" fill="#70b551"/>
<path d="M383.00,73.10 L383.55,74.30 L383.90,75.20 L383.55,76.10 L383.00,77.30 L382.45,76.10 L382.10,75.20 L382.45,74.30Z" fill="#70b551"/>
<path d="M385.00,73.10 L385.55,74.30 L385.90,75.20 L385.55,76.10 L385.00,77.30 L384.45,76.10 L384.10,75.20 L384.45,74.30Z" fill="#70b551"/>
<path d="M389.00,73.10 L389.55,74.30 L389.90,75.20 L389.55,76.10 L389.00,77.30 L388.45,76.10 L388.10,75.20 L388.45,74.30Z" fill="#70b551"/>
<path d="M419.00,78.30 L419.55,79.50 L419.90,80.40 L419.55,81.30 L419.00,82.50 L418.45,81.30 L418.10,80.40 L418.45,79.50Z" fill="#70b551"/>
<path d="M424.00,78.30 L424.55,79.50 L424.90,80.40 L424.55,81.30 L424.00,82.50 L423.45,81.30 L423.10,80.40 L423.45,79.50Z" fill="#70b551"/>
<path d="M426.00,78.30 L426.55,79.50 L426.90,80.40 L426.55,81.30 L426.00,82.50 L425.45,81.30 L425.10,80.40 L425.45,79.50Z" fill="#70b551"/>
<path d="M428.00,78.30 L428.55,79.50 L428.90,80.40 L428.55,81.30 L428.00,82.50 L427.45,81.30 L427.10,80.40 L427.45,79.50Z" fill="#70b551"/>
<path d="M431.00,78.30 L431.55,79.50 L431.90,80.40 L431.55,81.30 L431.00,82.50 L430.45,81.30 L430.10,80.40 L430.45,79.50Z" fill="#70b551"/>
<path d="M433.00,78.30 L433.55,79.50 L433.90,80.40 L433.55,81.30 L433.00,82.50 L432.45,81.30 L432.10,80.40 L432.45,79.50Z" fill="#70b551"/>
<path d="M435.00,78.30 L435.55,79.50 L435.90,80.40 L435.55,81.30 L435.00,82.50 L434.45,81.30 L434.10,80.40 L434.45,79.50Z" fill="#70b551"/>
<path d="M437.00,78.30 L437.55,79.50 L437.90,80.40 L437.55,81.30 L437.00,82.50 L436.45,81.30 L436.10,80.40 L436.45,79.50Z" fill="#70b551"/>
<path d="M439.00,78.30 L439.55,79.50 L439.90,80.40 L439.55,81.30 L439.00,82.50 L438.45,81.30 L438.10,80.40 L438.45,79.50Z" fill="#70b551"/>
<path d="M441.00,78.30 L441.55,79.50 L441.90,80.40 L441.55,81.30 L441.00,82.50 L440.45,81.30 L440.10,80.40 L440.45,79.50Z" fill="#70b551"/>
<path d="M446.00,78.30 L446.55,79.50 L446.90,80.40 L446.55,81.30 L446.00,82.50 L445.45,81.30 L445.10,80.40 L445.45,79.50Z" fill="#70b551"/>
<path d="M450.50,78.30 L451.05,79.50 L451.40,80.40 L451.05,81.30 L450.50,82.50 L449.95,81.30 L449.60,80.40 L449.95,79.50Z" fill="#70b551"/>
<path d="M310.80,43.30 L319.20,43.30 L319.30,63.50 L320.00,64.50 L322.30,66.90 L322.30,73.80 L328.10,73.80 L328.10,78.50 L329.20,78.50 L329.20,83.10 L342.80,83.10 L342.80,89.30 L364.40,89.30 L364.40,99.20 L407.20,99.20" fill="none" stroke="#b8173f" stroke-width="1.1" stroke-linejoin="miter"/>
<path d="M316.00,41.20 L316.55,42.40 L316.90,43.30 L316.55,44.20 L316.00,45.40 L315.45,44.20 L315.10,43.30 L315.45,42.40Z" fill="#b8173f"/>
<path d="M317.50,41.20 L318.05,42.40 L318.40,43.30 L318.05,44.20 L317.50,45.40 L316.95,44.20 L316.60,43.30 L316.95,42.40Z" fill="#b8173f"/>
<path d="M334.50,81.00 L335.05,82.20 L335.40,83.10 L335.05,84.00 L334.50,85.20 L333.95,84.00 L333.60,83.10 L333.95,82.20Z" fill="#b8173f"/>
<path d="M339.50,81.00 L340.05,82.20 L340.40,83.10 L340.05,84.00 L339.50,85.20 L338.95,84.00 L338.60,83.10 L338.95,82.20Z" fill="#b8173f"/>
<path d="M345.00,87.20 L345.55,88.40 L345.90,89.30 L345.55,90.20 L345.00,91.40 L344.45,90.20 L344.10,89.30 L344.45,88.40Z" fill="#b8173f"/>
<path d="M357.50,87.20 L358.05,88.40 L358.40,89.30 L358.05,90.20 L357.50,91.40 L356.95,90.20 L356.60,89.30 L356.95,88.40Z" fill="#b8173f"/>
<path d="M360.50,87.20 L361.05,88.40 L361.40,89.30 L361.05,90.20 L360.50,91.40 L359.95,90.20 L359.60,89.30 L359.95,88.40Z" fill="#b8173f"/>
<path d="M368.50,97.10 L369.05,98.30 L369.40,99.20 L369.05,100.10 L368.50,101.30 L367.95,100.10 L367.60,99.20 L367.95,98.30Z" fill="#b8173f"/>
<path d="M374.00,97.10 L374.55,98.30 L374.90,99.20 L374.55,100.10 L374.00,101.30 L373.45,100.10 L373.10,99.20 L373.45,98.30Z" fill="#b8173f"/>
<path d="M387.50,97.10 L388.05,98.30 L388.40,99.20 L388.05,100.10 L387.50,101.30 L386.95,100.10 L386.60,99.20 L386.95,98.30Z" fill="#b8173f"/>
<path d="M391.50,97.10 L392.05,98.30 L392.40,99.20 L392.05,100.10 L391.50,101.30 L390.95,100.10 L390.60,99.20 L390.95,98.30Z" fill="#b8173f"/>
<path d="M407.00,97.10 L407.55,98.30 L407.90,99.20 L407.55,100.10 L407.00,101.30 L406.45,100.10 L406.10,99.20 L406.45,98.30Z" fill="#b8173f"/>
<path d="M310.80,44.20 L314.50,44.20 L316.50,45.70 L318.80,48.60 L321.20,50.60 L324.20,52.80 L328.00,54.40 L331.20,56.30 L334.20,57.50 L338.00,58.30 L341.20,59.30 L363.80,59.30 L364.80,61.70 L366.30,64.80 L397.30,64.80 L397.30,69.00 L463.50,69.00" fill="none" stroke="#233f80" stroke-width="1.1" stroke-linejoin="miter"/>
<path d="M312.00,42.10 L312.55,43.30 L312.90,44.20 L312.55,45.10 L312.00,46.30 L311.45,45.10 L311.10,44.20 L311.45,43.30Z" fill="#233f80"/>
<path d="M313.50,42.10 L314.05,43.30 L314.40,44.20 L314.05,45.10 L313.50,46.30 L312.95,45.10 L312.60,44.20 L312.95,43.30Z" fill="#233f80"/>
<path d="M315.00,42.48 L315.55,43.68 L315.90,44.58 L315.55,45.48 L315.00,46.68 L314.45,45.48 L314.10,44.58 L314.45,43.68Z" fill="#233f80"/>
<path d="M318.00,45.49 L318.55,46.69 L318.90,47.59 L318.55,48.49 L318.00,49.69 L317.45,48.49 L317.10,47.59 L317.45,46.69Z" fill="#233f80"/>
<path d="M320.00,47.50 L320.55,48.70 L320.90,49.60 L320.55,50.50 L320.00,51.70 L319.45,50.50 L319.10,49.60 L319.45,48.70Z" fill="#233f80"/>
<path d="M322.50,49.45 L323.05,50.65 L323.40,51.55 L323.05,52.45 L322.50,53.65 L321.95,52.45 L321.60,51.55 L321.95,50.65Z" fill="#233f80"/>
<path d="M325.00,51.04 L325.55,52.24 L325.90,53.14 L325.55,54.04 L325.00,55.24 L324.45,54.04 L324.10,53.14 L324.45,52.24Z" fill="#233f80"/>
<path d="M327.00,51.88 L327.55,53.08 L327.90,53.98 L327.55,54.88 L327.00,56.08 L326.45,54.88 L326.10,53.98 L326.45,53.08Z" fill="#233f80"/>
<path d="M330.00,53.49 L330.55,54.69 L330.90,55.59 L330.55,56.49 L330.00,57.69 L329.45,56.49 L329.10,55.59 L329.45,54.69Z" fill="#233f80"/>
<path d="M333.00,54.92 L333.55,56.12 L333.90,57.02 L333.55,57.92 L333.00,59.12 L332.45,57.92 L332.10,57.02 L332.45,56.12Z" fill="#233f80"/>
<path d="M336.00,55.78 L336.55,56.98 L336.90,57.88 L336.55,58.78 L336.00,59.98 L335.45,58.78 L335.10,57.88 L335.45,56.98Z" fill="#233f80"/>
<path d="M339.00,56.51 L339.55,57.71 L339.90,58.61 L339.55,59.51 L339.00,60.71 L338.45,59.51 L338.10,58.61 L338.45,57.71Z" fill="#233f80"/>
<path d="M342.00,57.20 L342.55,58.40 L342.90,59.30 L342.55,60.20 L342.00,61.40 L341.45,60.20 L341.10,59.30 L341.45,58.40Z" fill="#233f80"/>
<path d="M344.00,57.20 L344.55,58.40 L344.90,59.30 L344.55,60.20 L344.00,61.40 L343.45,60.20 L343.10,59.30 L343.45,58.40Z" fill="#233f80"/>
<path d="M346.00,57.20 L346.55,58.40 L346.90,59.30 L346.55,60.20 L346.00,61.40 L345.45,60.20 L345.10,59.30 L345.45,58.40Z" fill="#233f80"/>
<path d="M348.00,57.20 L348.55,58.40 L348.90,59.30 L348.55,60.20 L348.00,61.40 L347.45,60.20 L347.10,59.30 L347.45,58.40Z" fill="#233f80"/>
<path d="M350.00,57.20 L350.55,58.40 L350.90,59.30 L350.55,60.20 L350.00,61.40 L349.45,60.20 L349.10,59.30 L349.45,58.40Z" fill="#233f80"/>
<path d="M352.00,57.20 L352.55,58.40 L352.90,59.30 L352.55,60.20 L352.00,61.40 L351.45,60.20 L351.10,59.30 L351.45,58.40Z" fill="#233f80"/>
<path d="M354.00,57.20 L354.55,58.40 L354.90,59.30 L354.55,60.20 L354.00,61.40 L353.45,60.20 L353.10,59.30 L353.45,58.40Z" fill="#233f80"/>
<path d="M356.00,57.20 L356.55,58.40 L356.90,59.30 L356.55,60.20 L356.00,61.40 L355.45,60.20 L355.10,59.30 L355.45,58.40Z" fill="#233f80"/>
<path d="M358.00,57.20 L358.55,58.40 L358.90,59.30 L358.55,60.20 L358.00,61.40 L357.45,60.20 L357.10,59.30 L357.45,58.40Z" fill="#233f80"/>
<path d="M360.00,57.20 L360.55,58.40 L360.90,59.30 L360.55,60.20 L360.00,61.40 L359.45,60.20 L359.10,59.30 L359.45,58.40Z" fill="#233f80"/>
<path d="M362.00,57.20 L362.55,58.40 L362.90,59.30 L362.55,60.20 L362.00,61.40 L361.45,60.20 L361.10,59.30 L361.45,58.40Z" fill="#233f80"/>
<path d="M379.00,62.70 L379.55,63.90 L379.90,64.80 L379.55,65.70 L379.00,66.90 L378.45,65.70 L378.10,64.80 L378.45,63.90Z" fill="#233f80"/>
<path d="M383.00,62.70 L383.55,63.90 L383.90,64.80 L383.55,65.70 L383.00,66.90 L382.45,65.70 L382.10,64.80 L382.45,63.90Z" fill="#233f80"/>
<path d="M386.00,62.70 L386.55,63.90 L386.90,64.80 L386.55,65.70 L386.00,66.90 L385.45,65.70 L385.10,64.80 L385.45,63.90Z" fill="#233f80"/>
<path d="M390.00,62.70 L390.55,63.90 L390.90,64.80 L390.55,65.70 L390.00,66.90 L389.45,65.70 L389.10,64.80 L389.45,63.90Z" fill="#233f80"/>
<path d="M394.00,62.70 L394.55,63.90 L394.90,64.80 L394.55,65.70 L394.00,66.90 L393.45,65.70 L393.10,64.80 L393.45,63.90Z" fill="#233f80"/>
<path d="M400.00,66.90 L400.55,68.10 L400.90,69.00 L400.55,69.90 L400.00,71.10 L399.45,69.90 L399.10,69.00 L399.45,68.10Z" fill="#233f80"/>
<path d="M402.00,66.90 L402.55,68.10 L402.90,69.00 L402.55,69.90 L402.00,71.10 L401.45,69.90 L401.10,69.00 L401.45,68.10Z" fill="#233f80"/>
<path d="M404.00,66.90 L404.55,68.10 L404.90,69.00 L404.55,69.90 L404.00,71.10 L403.45,69.90 L403.10,69.00 L403.45,68.10Z" fill="#233f80"/>
<path d="M406.00,66.90 L406.55,68.10 L406.90,69.00 L406.55,69.90 L406.00,71.10 L405.45,69.90 L405.10,69.00 L405.45,68.10Z" fill="#233f80"/>
<path d="M408.00,66.90 L408.55,68.10 L408.90,69.00 L408.55,69.90 L408.00,71.10 L407.45,69.90 L407.10,69.00 L407.45,68.10Z" fill="#233f80"/>
<path d="M410.00,66.90 L410.55,68.10 L410.90,69.00 L410.55,69.90 L410.00,71.10 L409.45,69.90 L409.10,69.00 L409.45,68.10Z" fill="#233f80"/>
<path d="M418.00,66.90 L418.55,68.10 L418.90,69.00 L418.55,69.90 L418.00,71.10 L417.45,69.90 L417.10,69.00 L417.45,68.10Z" fill="#233f80"/>
<path d="M420.00,66.90 L420.55,68.10 L420.90,69.00 L420.55,69.90 L420.00,71.10 L419.45,69.90 L419.10,69.00 L419.45,68.10Z" fill="#233f80"/>
<path d="M424.00,66.90 L424.55,68.10 L424.90,69.00 L424.55,69.90 L424.00,71.10 L423.45,69.90 L423.10,69.00 L423.45,68.10Z" fill="#233f80"/>
<path d="M425.50,66.90 L426.05,68.10 L426.40,69.00 L426.05,69.90 L425.50,71.10 L424.95,69.90 L424.60,69.00 L424.95,68.10Z" fill="#233f80"/>
<path d="M435.00,66.90 L435.55,68.10 L435.90,69.00 L435.55,69.90 L435.00,71.10 L434.45,69.90 L434.10,69.00 L434.45,68.10Z" fill="#233f80"/>
<path d="M437.00,66.90 L437.55,68.10 L437.90,69.00 L437.55,69.90 L437.00,71.10 L436.45,69.90 L436.10,69.00 L436.45,68.10Z" fill="#233f80"/>
<path d="M441.00,66.90 L441.55,68.10 L441.90,69.00 L441.55,69.90 L441.00,71.10 L440.45,69.90 L440.10,69.00 L440.45,68.10Z" fill="#233f80"/>
<path d="M457.00,66.90 L457.55,68.10 L457.90,69.00 L457.55,69.90 L457.00,71.10 L456.45,69.90 L456.10,69.00 L456.45,68.10Z" fill="#233f80"/>
<path d="M462.50,66.90 L463.05,68.10 L463.40,69.00 L463.05,69.90 L462.50,71.10 L461.95,69.90 L461.60,69.00 L461.95,68.10Z" fill="#233f80"/>
<path d="M61.00,324.30 L61.50,324.30 L62.10,325.20 L63.30,329.00 L65.00,331.00 L67.30,335.00 L69.60,338.50 L70.80,340.20 L71.90,345.40 L72.50,350.00 L74.20,351.70 L76.00,353.40 L77.70,356.90 L78.80,358.60 L86.30,358.60 L88.10,361.00 L89.80,363.80 L91.50,366.10 L95.00,366.70 L97.30,367.90 L99.60,368.40 L101.90,370.20 L105.40,373.00 L107.30,373.80 L109.60,376.70 L113.10,377.20 L115.40,379.50 L117.70,379.80 L117.70,385.30 L131.50,385.30 L131.50,387.00 L139.00,387.00 L139.00,389.30 L143.10,389.30 L146.00,392.20 L154.60,392.20 L156.90,394.00 L158.50,394.50 L160.20,397.80 L177.50,397.80 L177.50,400.10 L185.60,400.10 L185.60,401.80 L187.90,403.90 L209.20,403.90" fill="none" stroke="#e4931e" stroke-width="1.1" stroke-linejoin="miter"/>
<path d="M69.00,335.49 L69.55,336.69 L69.90,337.59 L69.55,338.49 L69.00,339.69 L68.45,338.49 L68.10,337.59 L68.45,336.69Z" fill="#e4931e"/>
<path d="M77.00,353.36 L77.55,354.56 L77.90,355.46 L77.55,356.36 L77.00,357.56 L76.45,356.36 L76.10,355.46 L76.45,354.56Z" fill="#e4931e"/>
<path d="M95.00,364.60 L95.55,365.80 L95.90,366.70 L95.55,367.60 L95.00,368.80 L94.45,367.60 L94.10,366.70 L94.45,365.80Z" fill="#e4931e"/>
<path d="M97.00,365.64 L97.55,366.84 L97.90,367.74 L97.55,368.64 L97.00,369.84 L96.45,368.64 L96.10,367.74 L96.45,366.84Z" fill="#e4931e"/>
<path d="M140.00,387.20 L140.55,388.40 L140.90,389.30 L140.55,390.20 L140.00,391.40 L139.45,390.20 L139.10,389.30 L139.45,388.40Z" fill="#e4931e"/>
<path d="M143.00,387.20 L143.55,388.40 L143.90,389.30 L143.55,390.20 L143.00,391.40 L142.45,390.20 L142.10,389.30 L142.45,388.40Z" fill="#e4931e"/>
<path d="M144.50,388.60 L145.05,389.80 L145.40,390.70 L145.05,391.60 L144.50,392.80 L143.95,391.60 L143.60,390.70 L143.95,389.80Z" fill="#e4931e"/>
<path d="M152.00,390.10 L152.55,391.30 L152.90,392.20 L152.55,393.10 L152.00,394.30 L151.45,393.10 L151.10,392.20 L151.45,391.30Z" fill="#e4931e"/>
<path d="M153.00,390.10 L153.55,391.30 L153.90,392.20 L153.55,393.10 L153.00,394.30 L152.45,393.10 L152.10,392.20 L152.45,391.30Z" fill="#e4931e"/>
<path d="M157.00,391.93 L157.55,393.13 L157.90,394.03 L157.55,394.93 L157.00,396.13 L156.45,394.93 L156.10,394.03 L156.45,393.13Z" fill="#e4931e"/>
<path d="M160.00,395.31 L160.55,396.51 L160.90,397.41 L160.55,398.31 L160.00,399.51 L159.45,398.31 L159.10,397.41 L159.45,396.51Z" fill="#e4931e"/>
<path d="M180.50,398.00 L181.05,399.20 L181.40,400.10 L181.05,401.00 L180.50,402.20 L179.95,401.00 L179.60,400.10 L179.95,399.20Z" fill="#e4931e"/>
<path d="M183.00,398.00 L183.55,399.20 L183.90,400.10 L183.55,401.00 L183.00,402.20 L182.45,401.00 L182.10,400.10 L182.45,399.20Z" fill="#e4931e"/>
<path d="M193.50,401.80 L194.05,403.00 L194.40,403.90 L194.05,404.80 L193.50,406.00 L192.95,404.80 L192.60,403.90 L192.95,403.00Z" fill="#e4931e"/>
<path d="M203.50,401.80 L204.05,403.00 L204.40,403.90 L204.05,404.80 L203.50,406.00 L202.95,404.80 L202.60,403.90 L202.95,403.00Z" fill="#e4931e"/>
<path d="M61.00,324.30 L61.50,324.30 L62.10,325.20 L63.30,329.00 L67.30,331.00 L70.20,332.10 L71.30,333.80 L73.10,335.60 L74.20,339.00 L76.50,340.80 L78.30,343.60 L80.00,344.50 L85.80,344.50 L86.90,347.10 L124.20,347.10 L124.20,350.40 L176.70,350.40 L177.50,351.20 L177.70,354.50 L208.90,354.50" fill="none" stroke="#b8173f" stroke-width="1.1" stroke-linejoin="miter"/>
<path d="M62.00,322.95 L62.55,324.15 L62.90,325.05 L62.55,325.95 L62.00,327.15 L61.45,325.95 L61.10,325.05 L61.45,324.15Z" fill="#b8173f"/>
<path d="M67.00,328.75 L67.55,329.95 L67.90,330.85 L67.55,331.75 L67.00,332.95 L66.45,331.75 L66.10,330.85 L66.45,329.95Z" fill="#b8173f"/>
<path d="M70.00,329.92 L70.55,331.12 L70.90,332.02 L70.55,332.92 L70.00,334.12 L69.45,332.92 L69.10,332.02 L69.45,331.12Z" fill="#b8173f"/>
<path d="M84.00,342.40 L84.55,343.60 L84.90,344.50 L84.55,345.40 L84.00,346.60 L83.45,345.40 L83.10,344.50 L83.45,343.60Z" fill="#b8173f"/>
<path d="M93.50,345.00 L94.05,346.20 L94.40,347.10 L94.05,348.00 L93.50,349.20 L92.95,348.00 L92.60,347.10 L92.95,346.20Z" fill="#b8173f"/>
<path d="M100.00,345.00 L100.55,346.20 L100.90,347.10 L100.55,348.00 L100.00,349.20 L99.45,348.00 L99.10,347.10 L99.45,346.20Z" fill="#b8173f"/>
<path d="M108.00,345.00 L108.55,346.20 L108.90,347.10 L108.55,348.00 L108.00,349.20 L107.45,348.00 L107.10,347.10 L107.45,346.20Z" fill="#b8173f"/>
<path d="M139.50,348.30 L140.05,349.50 L140.40,350.40 L140.05,351.30 L139.50,352.50 L138.95,351.30 L138.60,350.40 L138.95,349.50Z" fill="#b8173f"/>
<path d="M158.50,348.30 L159.05,349.50 L159.40,350.40 L159.05,351.30 L158.50,352.50 L157.95,351.30 L157.60,350.40 L157.95,349.50Z" fill="#b8173f"/>
<path d="M176.50,348.30 L177.05,349.50 L177.40,350.40 L177.05,351.30 L176.50,352.50 L175.95,351.30 L175.60,350.40 L175.95,349.50Z" fill="#b8173f"/>
<path d="M178.50,352.40 L179.05,353.60 L179.40,354.50 L179.05,355.40 L178.50,356.60 L177.95,355.40 L177.60,354.50 L177.95,353.60Z" fill="#b8173f"/>
<path d="M179.50,352.40 L180.05,353.60 L180.40,354.50 L180.05,355.40 L179.50,356.60 L178.95,355.40 L178.60,354.50 L178.95,353.60Z" fill="#b8173f"/>
<path d="M181.00,352.40 L181.55,353.60 L181.90,354.50 L181.55,355.40 L181.00,356.60 L180.45,355.40 L180.10,354.50 L180.45,353.60Z" fill="#b8173f"/>
<path d="M185.50,352.40 L186.05,353.60 L186.40,354.50 L186.05,355.40 L185.50,356.60 L184.95,355.40 L184.60,354.50 L184.95,353.60Z" fill="#b8173f"/>
<path d="M195.50,352.40 L196.05,353.60 L196.40,354.50 L196.05,355.40 L195.50,356.60 L194.95,355.40 L194.60,354.50 L194.95,353.60Z" fill="#b8173f"/>
<path d="M208.50,352.40 L209.05,353.60 L209.40,354.50 L209.05,355.40 L208.50,356.60 L207.95,355.40 L207.60,354.50 L207.95,353.60Z" fill="#b8173f"/>
<path d="M60.00,324.30 L60.40,324.30 L60.40,326.30 L61.00,330.40 L62.70,333.30 L66.10,336.10 L69.00,337.90 L73.10,339.60 L76.50,341.30 L80.00,344.20 L83.40,344.80 L86.90,346.50 L89.80,349.40 L92.70,352.30 L93.80,354.60 L98.40,355.80 L100.70,356.60 L125.40,356.60 L127.30,357.50 L130.20,361.00 L132.30,362.40 L137.40,362.40 L137.40,364.50 L143.90,364.50 L145.50,366.10 L147.20,366.80 L209.30,366.80" fill="none" stroke="#70b551" stroke-width="1.1" stroke-linejoin="miter"/>
<path d="M61.00,328.30 L61.55,329.50 L61.90,330.40 L61.55,331.30 L61.00,332.50 L60.45,331.30 L60.10,330.40 L60.45,329.50Z" fill="#70b551"/>
<path d="M65.00,333.09 L65.55,334.29 L65.90,335.19 L65.55,336.09 L65.00,337.29 L64.45,336.09 L64.10,335.19 L64.45,334.29Z" fill="#70b551"/>
<path d="M69.00,335.80 L69.55,337.00 L69.90,337.90 L69.55,338.80 L69.00,340.00 L68.45,338.80 L68.10,337.90 L68.45,337.00Z" fill="#70b551"/>
<path d="M72.00,337.04 L72.55,338.24 L72.90,339.14 L72.55,340.04 L72.00,341.24 L71.45,340.04 L71.10,339.14 L71.45,338.24Z" fill="#70b551"/>
<path d="M78.00,340.44 L78.55,341.64 L78.90,342.54 L78.55,343.44 L78.00,344.64 L77.45,343.44 L77.10,342.54 L77.45,341.64Z" fill="#70b551"/>
<path d="M84.00,342.99 L84.55,344.19 L84.90,345.09 L84.55,345.99 L84.00,347.19 L83.45,345.99 L83.10,345.09 L83.45,344.19Z" fill="#70b551"/>
<path d="M96.50,353.20 L97.05,354.40 L97.40,355.30 L97.05,356.20 L96.50,357.40 L95.95,356.20 L95.60,355.30 L95.95,354.40Z" fill="#70b551"/>
<path d="M100.00,354.26 L100.55,355.46 L100.90,356.36 L100.55,357.26 L100.00,358.46 L99.45,357.26 L99.10,356.36 L99.45,355.46Z" fill="#70b551"/>
<path d="M104.00,354.50 L104.55,355.70 L104.90,356.60 L104.55,357.50 L104.00,358.70 L103.45,357.50 L103.10,356.60 L103.45,355.70Z" fill="#70b551"/>
<path d="M108.00,354.50 L108.55,355.70 L108.90,356.60 L108.55,357.50 L108.00,358.70 L107.45,357.50 L107.10,356.60 L107.45,355.70Z" fill="#70b551"/>
<path d="M109.50,354.50 L110.05,355.70 L110.40,356.60 L110.05,357.50 L109.50,358.70 L108.95,357.50 L108.60,356.60 L108.95,355.70Z" fill="#70b551"/>
<path d="M111.00,354.50 L111.55,355.70 L111.90,356.60 L111.55,357.50 L111.00,358.70 L110.45,357.50 L110.10,356.60 L110.45,355.70Z" fill="#70b551"/>
<path d="M116.00,354.50 L116.55,355.70 L116.90,356.60 L116.55,357.50 L116.00,358.70 L115.45,357.50 L115.10,356.60 L115.45,355.70Z" fill="#70b551"/>
<path d="M121.00,354.50 L121.55,355.70 L121.90,356.60 L121.55,357.50 L121.00,358.70 L120.45,357.50 L120.10,356.60 L120.45,355.70Z" fill="#70b551"/>
<path d="M125.50,354.55 L126.05,355.75 L126.40,356.65 L126.05,357.55 L125.50,358.75 L124.95,357.55 L124.60,356.65 L124.95,355.75Z" fill="#70b551"/>
<path d="M127.00,355.26 L127.55,356.46 L127.90,357.36 L127.55,358.26 L127.00,359.46 L126.45,358.26 L126.10,357.36 L126.45,356.46Z" fill="#70b551"/>
<path d="M134.00,360.30 L134.55,361.50 L134.90,362.40 L134.55,363.30 L134.00,364.50 L133.45,363.30 L133.10,362.40 L133.45,361.50Z" fill="#70b551"/>
<path d="M136.50,360.30 L137.05,361.50 L137.40,362.40 L137.05,363.30 L136.50,364.50 L135.95,363.30 L135.60,362.40 L135.95,361.50Z" fill="#70b551"/>
<path d="M146.50,364.41 L147.05,365.61 L147.40,366.51 L147.05,367.41 L146.50,368.61 L145.95,367.41 L145.60,366.51 L145.95,365.61Z" fill="#70b551"/>
<path d="M152.50,364.70 L153.05,365.90 L153.40,366.80 L153.05,367.70 L152.50,368.90 L151.95,367.70 L151.60,366.80 L151.95,365.90Z" fill="#70b551"/>
<path d="M155.00,364.70 L155.55,365.90 L155.90,366.80 L155.55,367.70 L155.00,368.90 L154.45,367.70 L154.10,366.80 L154.45,365.90Z" fill="#70b551"/>
<path d="M158.50,364.70 L159.05,365.90 L159.40,366.80 L159.05,367.70 L158.50,368.90 L157.95,367.70 L157.60,366.80 L157.95,365.90Z" fill="#70b551"/>
<path d="M163.50,364.70 L164.05,365.90 L164.40,366.80 L164.05,367.70 L163.50,368.90 L162.95,367.70 L162.60,366.80 L162.95,365.90Z" fill="#70b551"/>
<path d="M172.00,364.70 L172.55,365.90 L172.90,366.80 L172.55,367.70 L172.00,368.90 L171.45,367.70 L171.10,366.80 L171.45,365.90Z" fill="#70b551"/>
<path d="M176.00,364.70 L176.55,365.90 L176.90,366.80 L176.55,367.70 L176.00,368.90 L175.45,367.70 L175.10,366.80 L175.45,365.90Z" fill="#70b551"/>
<path d="M178.00,364.70 L178.55,365.90 L178.90,366.80 L178.55,367.70 L178.00,368.90 L177.45,367.70 L177.10,366.80 L177.45,365.90Z" fill="#70b551"/>
<path d="M180.00,364.70 L180.55,365.90 L180.90,366.80 L180.55,367.70 L180.00,368.90 L179.45,367.70 L179.10,366.80 L179.45,365.90Z" fill="#70b551"/>
<path d="M51.50,324.30 L60.80,324.30 L60.80,325.40 L69.40,325.40 L69.40,327.00 L73.50,327.40 L74.80,329.90 L82.90,330.50 L84.20,331.60 L86.90,332.60 L88.30,333.30 L112.50,333.60 L115.20,336.10 L117.90,337.00 L182.00,337.00 L182.00,341.30 L209.40,341.30" fill="none" stroke="#233f80" stroke-width="1.1" stroke-linejoin="miter"/>
<path d="M74.50,327.22 L75.05,328.42 L75.40,329.32 L75.05,330.22 L74.50,331.42 L73.95,330.22 L73.60,329.32 L73.95,328.42Z" fill="#233f80"/>
<path d="M77.00,327.96 L77.55,329.16 L77.90,330.06 L77.55,330.96 L77.00,332.16 L76.45,330.96 L76.10,330.06 L76.45,329.16Z" fill="#233f80"/>
<path d="M79.50,328.15 L80.05,329.35 L80.40,330.25 L80.05,331.15 L79.50,332.35 L78.95,331.15 L78.60,330.25 L78.95,329.35Z" fill="#233f80"/>
<path d="M88.00,331.05 L88.55,332.25 L88.90,333.15 L88.55,334.05 L88.00,335.25 L87.45,334.05 L87.10,333.15 L87.45,332.25Z" fill="#233f80"/>
<path d="M92.00,331.25 L92.55,332.45 L92.90,333.35 L92.55,334.25 L92.00,335.45 L91.45,334.25 L91.10,333.35 L91.45,332.45Z" fill="#233f80"/>
<path d="M95.00,331.28 L95.55,332.48 L95.90,333.38 L95.55,334.28 L95.00,335.48 L94.45,334.28 L94.10,333.38 L94.45,332.48Z" fill="#233f80"/>
<path d="M98.50,331.33 L99.05,332.53 L99.40,333.43 L99.05,334.33 L98.50,335.53 L97.95,334.33 L97.60,333.43 L97.95,332.53Z" fill="#233f80"/>
<path d="M101.00,331.36 L101.55,332.56 L101.90,333.46 L101.55,334.36 L101.00,335.56 L100.45,334.36 L100.10,333.46 L100.45,332.56Z" fill="#233f80"/>
<path d="M104.00,331.39 L104.55,332.59 L104.90,333.49 L104.55,334.39 L104.00,335.59 L103.45,334.39 L103.10,333.49 L103.45,332.59Z" fill="#233f80"/>
<path d="M106.00,331.42 L106.55,332.62 L106.90,333.52 L106.55,334.42 L106.00,335.62 L105.45,334.42 L105.10,333.52 L105.45,332.62Z" fill="#233f80"/>
<path d="M108.00,331.44 L108.55,332.64 L108.90,333.54 L108.55,334.44 L108.00,335.64 L107.45,334.44 L107.10,333.54 L107.45,332.64Z" fill="#233f80"/>
<path d="M109.50,331.46 L110.05,332.66 L110.40,333.56 L110.05,334.46 L109.50,335.66 L108.95,334.46 L108.60,333.56 L108.95,332.66Z" fill="#233f80"/>
<path d="M111.00,331.48 L111.55,332.68 L111.90,333.58 L111.55,334.48 L111.00,335.68 L110.45,334.48 L110.10,333.58 L110.45,332.68Z" fill="#233f80"/>
<path d="M113.00,331.96 L113.55,333.16 L113.90,334.06 L113.55,334.96 L113.00,336.16 L112.45,334.96 L112.10,334.06 L112.45,333.16Z" fill="#233f80"/>
<path d="M118.00,334.90 L118.55,336.10 L118.90,337.00 L118.55,337.90 L118.00,339.10 L117.45,337.90 L117.10,337.00 L117.45,336.10Z" fill="#233f80"/>
<path d="M120.50,334.90 L121.05,336.10 L121.40,337.00 L121.05,337.90 L120.50,339.10 L119.95,337.90 L119.60,337.00 L119.95,336.10Z" fill="#233f80"/>
<path d="M124.00,334.90 L124.55,336.10 L124.90,337.00 L124.55,337.90 L124.00,339.10 L123.45,337.90 L123.10,337.00 L123.45,336.10Z" fill="#233f80"/>
<path d="M126.50,334.90 L127.05,336.10 L127.40,337.00 L127.05,337.90 L126.50,339.10 L125.95,337.90 L125.60,337.00 L125.95,336.10Z" fill="#233f80"/>
<path d="M129.00,334.90 L129.55,336.10 L129.90,337.00 L129.55,337.90 L129.00,339.10 L128.45,337.90 L128.10,337.00 L128.45,336.10Z" fill="#233f80"/>
<path d="M130.50,334.90 L131.05,336.10 L131.40,337.00 L131.05,337.90 L130.50,339.10 L129.95,337.90 L129.60,337.00 L129.95,336.10Z" fill="#233f80"/>
<path d="M135.00,334.90 L135.55,336.10 L135.90,337.00 L135.55,337.90 L135.00,339.10 L134.45,337.90 L134.10,337.00 L134.45,336.10Z" fill="#233f80"/>
<path d="M138.00,334.90 L138.55,336.10 L138.90,337.00 L138.55,337.90 L138.00,339.10 L137.45,337.90 L137.10,337.00 L137.45,336.10Z" fill="#233f80"/>
<path d="M142.00,334.90 L142.55,336.10 L142.90,337.00 L142.55,337.90 L142.00,339.10 L141.45,337.90 L141.10,337.00 L141.45,336.10Z" fill="#233f80"/>
<path d="M144.50,334.90 L145.05,336.10 L145.40,337.00 L145.05,337.90 L144.50,339.10 L143.95,337.90 L143.60,337.00 L143.95,336.10Z" fill="#233f80"/>
<path d="M150.00,334.90 L150.55,336.10 L150.90,337.00 L150.55,337.90 L150.00,339.10 L149.45,337.90 L149.10,337.00 L149.45,336.10Z" fill="#233f80"/>
<path d="M154.00,334.90 L154.55,336.10 L154.90,337.00 L154.55,337.90 L154.00,339.10 L153.45,337.90 L153.10,337.00 L153.45,336.10Z" fill="#233f80"/>
<path d="M164.00,334.90 L164.55,336.10 L164.90,337.00 L164.55,337.90 L164.00,339.10 L163.45,337.90 L163.10,337.00 L163.45,336.10Z" fill="#233f80"/>
<path d="M166.50,334.90 L167.05,336.10 L167.40,337.00 L167.05,337.90 L166.50,339.10 L165.95,337.90 L165.60,337.00 L165.95,336.10Z" fill="#233f80"/>
<path d="M172.00,334.90 L172.55,336.10 L172.90,337.00 L172.55,337.90 L172.00,339.10 L171.45,337.90 L171.10,337.00 L171.45,336.10Z" fill="#233f80"/>
<path d="M176.50,334.90 L177.05,336.10 L177.40,337.00 L177.05,337.90 L176.50,339.10 L175.95,337.90 L175.60,337.00 L175.95,336.10Z" fill="#233f80"/>
<path d="M182.30,339.20 L182.85,340.40 L183.20,341.30 L182.85,342.20 L182.30,343.40 L181.75,342.20 L181.40,341.30 L181.75,340.40Z" fill="#233f80"/>
<path d="M199.50,339.20 L200.05,340.40 L200.40,341.30 L200.05,342.20 L199.50,343.40 L198.95,342.20 L198.60,341.30 L198.95,340.40Z" fill="#233f80"/>
<path d="M203.50,339.20 L204.05,340.40 L204.40,341.30 L204.05,342.20 L203.50,343.40 L202.95,342.20 L202.60,341.30 L202.95,340.40Z" fill="#233f80"/>
<path d="M323.50,448.80 L334.00,448.80 L334.00,447.10 L334.60,446.30 L466.20,446.30" fill="none" stroke="#233f80" stroke-width="1.1" stroke-linejoin="miter"/>
<path d="M326.00,446.70 L326.55,447.90 L326.90,448.80 L326.55,449.70 L326.00,450.90 L325.45,449.70 L325.10,448.80 L325.45,447.90Z" fill="#233f80"/>
<path d="M329.00,446.70 L329.55,447.90 L329.90,448.80 L329.55,449.70 L329.00,450.90 L328.45,449.70 L328.10,448.80 L328.45,447.90Z" fill="#233f80"/>
<path d="M330.50,446.70 L331.05,447.90 L331.40,448.80 L331.05,449.70 L330.50,450.90 L329.95,449.70 L329.60,448.80 L329.95,447.90Z" fill="#233f80"/>
<path d="M339.50,444.20 L340.05,445.40 L340.40,446.30 L340.05,447.20 L339.50,448.40 L338.95,447.20 L338.60,446.30 L338.95,445.40Z" fill="#233f80"/>
<path d="M340.50,444.20 L341.05,445.40 L341.40,446.30 L341.05,447.20 L340.50,448.40 L339.95,447.20 L339.60,446.30 L339.95,445.40Z" fill="#233f80"/>
<path d="M341.50,444.20 L342.05,445.40 L342.40,446.30 L342.05,447.20 L341.50,448.40 L340.95,447.20 L340.60,446.30 L340.95,445.40Z" fill="#233f80"/>
<path d="M342.50,444.20 L343.05,445.40 L343.40,446.30 L343.05,447.20 L342.50,448.40 L341.95,447.20 L341.60,446.30 L341.95,445.40Z" fill="#233f80"/>
<path d="M347.50,444.20 L348.05,445.40 L348.40,446.30 L348.05,447.20 L347.50,448.40 L346.95,447.20 L346.60,446.30 L346.95,445.40Z" fill="#233f80"/>
<path d="M355.50,444.20 L356.05,445.40 L356.40,446.30 L356.05,447.20 L355.50,448.40 L354.95,447.20 L354.60,446.30 L354.95,445.40Z" fill="#233f80"/>
<path d="M365.00,444.20 L365.55,445.40 L365.90,446.30 L365.55,447.20 L365.00,448.40 L364.45,447.20 L364.10,446.30 L364.45,445.40Z" fill="#233f80"/>
<path d="M376.20,444.20 L376.75,445.40 L377.10,446.30 L376.75,447.20 L376.20,448.40 L375.65,447.20 L375.30,446.30 L375.65,445.40Z" fill="#233f80"/>
<path d="M393.00,444.20 L393.55,445.40 L393.90,446.30 L393.55,447.20 L393.00,448.40 L392.45,447.20 L392.10,446.30 L392.45,445.40Z" fill="#233f80"/>
<path d="M398.70,444.20 L399.25,445.40 L399.60,446.30 L399.25,447.20 L398.70,448.40 L398.15,447.20 L397.80,446.30 L398.15,445.40Z" fill="#233f80"/>
<path d="M401.20,444.20 L401.75,445.40 L402.10,446.30 L401.75,447.20 L401.20,448.40 L400.65,447.20 L400.30,446.30 L400.65,445.40Z" fill="#233f80"/>
<path d="M404.50,444.20 L405.05,445.40 L405.40,446.30 L405.05,447.20 L404.50,448.40 L403.95,447.20 L403.60,446.30 L403.95,445.40Z" fill="#233f80"/>
<path d="M407.00,444.20 L407.55,445.40 L407.90,446.30 L407.55,447.20 L407.00,448.40 L406.45,447.20 L406.10,446.30 L406.45,445.40Z" fill="#233f80"/>
<path d="M419.50,444.20 L420.05,445.40 L420.40,446.30 L420.05,447.20 L419.50,448.40 L418.95,447.20 L418.60,446.30 L418.95,445.40Z" fill="#233f80"/>
<path d="M421.20,444.20 L421.75,445.40 L422.10,446.30 L421.75,447.20 L421.20,448.40 L420.65,447.20 L420.30,446.30 L420.65,445.40Z" fill="#233f80"/>
<path d="M430.50,444.20 L431.05,445.40 L431.40,446.30 L431.05,447.20 L430.50,448.40 L429.95,447.20 L429.60,446.30 L429.95,445.40Z" fill="#233f80"/>
<path d="M431.20,444.20 L431.75,445.40 L432.10,446.30 L431.75,447.20 L431.20,448.40 L430.65,447.20 L430.30,446.30 L430.65,445.40Z" fill="#233f80"/>
<path d="M435.70,444.20 L436.25,445.40 L436.60,446.30 L436.25,447.20 L435.70,448.40 L435.15,447.20 L434.80,446.30 L435.15,445.40Z" fill="#233f80"/>
<path d="M451.70,444.20 L452.25,445.40 L452.60,446.30 L452.25,447.20 L451.70,448.40 L451.15,447.20 L450.80,446.30 L451.15,445.40Z" fill="#233f80"/>
<path d="M455.00,444.20 L455.55,445.40 L455.90,446.30 L455.55,447.20 L455.00,448.40 L454.45,447.20 L454.10,446.30 L454.45,445.40Z" fill="#233f80"/>
<path d="M456.20,444.20 L456.75,445.40 L457.10,446.30 L456.75,447.20 L456.20,448.40 L455.65,447.20 L455.30,446.30 L455.65,445.40Z" fill="#233f80"/>
<path d="M462.50,444.20 L463.05,445.40 L463.40,446.30 L463.05,447.20 L462.50,448.40 L461.95,447.20 L461.60,446.30 L461.95,445.40Z" fill="#233f80"/>
<path d="M322.50,448.80 L328.00,448.80 L328.30,445.70 L329.40,442.20 L330.60,441.20 L338.10,441.20 L338.10,437.30 L349.80,437.30 L349.80,432.90 L432.80,432.90 L432.80,427.90 L466.40,427.90" fill="none" stroke="#b8173f" stroke-width="1.1" stroke-linejoin="miter"/>
<path d="M323.70,446.70 L324.25,447.90 L324.60,448.80 L324.25,449.70 L323.70,450.90 L323.15,449.70 L322.80,448.80 L323.15,447.90Z" fill="#b8173f"/>
<path d="M331.00,439.10 L331.55,440.30 L331.90,441.20 L331.55,442.10 L331.00,443.30 L330.45,442.10 L330.10,441.20 L330.45,440.30Z" fill="#b8173f"/>
<path d="M333.00,439.10 L333.55,440.30 L333.90,441.20 L333.55,442.10 L333.00,443.30 L332.45,442.10 L332.10,441.20 L332.45,440.30Z" fill="#b8173f"/>
<path d="M335.50,439.10 L336.05,440.30 L336.40,441.20 L336.05,442.10 L335.50,443.30 L334.95,442.10 L334.60,441.20 L334.95,440.30Z" fill="#b8173f"/>
<path d="M336.50,439.10 L337.05,440.30 L337.40,441.20 L337.05,442.10 L336.50,443.30 L335.95,442.10 L335.60,441.20 L335.95,440.30Z" fill="#b8173f"/>
<path d="M377.50,430.80 L378.05,432.00 L378.40,432.90 L378.05,433.80 L377.50,435.00 L376.95,433.80 L376.60,432.90 L376.95,432.00Z" fill="#b8173f"/>
<path d="M380.50,430.80 L381.05,432.00 L381.40,432.90 L381.05,433.80 L380.50,435.00 L379.95,433.80 L379.60,432.90 L379.95,432.00Z" fill="#b8173f"/>
<path d="M384.00,430.80 L384.55,432.00 L384.90,432.90 L384.55,433.80 L384.00,435.00 L383.45,433.80 L383.10,432.90 L383.45,432.00Z" fill="#b8173f"/>
<path d="M397.50,430.80 L398.05,432.00 L398.40,432.90 L398.05,433.80 L397.50,435.00 L396.95,433.80 L396.60,432.90 L396.95,432.00Z" fill="#b8173f"/>
<path d="M414.50,430.80 L415.05,432.00 L415.40,432.90 L415.05,433.80 L414.50,435.00 L413.95,433.80 L413.60,432.90 L413.95,432.00Z" fill="#b8173f"/>
<path d="M433.30,425.80 L433.85,427.00 L434.20,427.90 L433.85,428.80 L433.30,430.00 L432.75,428.80 L432.40,427.90 L432.75,427.00Z" fill="#b8173f"/>
<path d="M439.50,425.80 L440.05,427.00 L440.40,427.90 L440.05,428.80 L439.50,430.00 L438.95,428.80 L438.60,427.90 L438.95,427.00Z" fill="#b8173f"/>
<path d="M448.50,425.80 L449.05,427.00 L449.40,427.90 L449.05,428.80 L448.50,430.00 L447.95,428.80 L447.60,427.90 L447.95,427.00Z" fill="#b8173f"/>
<path d="M460.00,425.80 L460.55,427.00 L460.90,427.90 L460.55,428.80 L460.00,430.00 L459.45,428.80 L459.10,427.90 L459.45,427.00Z" fill="#b8173f"/>
<path d="M325.00,448.80 L325.50,448.80 L325.70,442.20 L326.50,438.70 L327.10,437.00 L329.40,436.70 L331.70,435.80 L334.00,434.70 L336.40,433.50 L338.70,432.70 L340.40,431.80 L342.30,430.30 L344.50,429.00 L347.80,428.00 L350.40,427.00 L351.10,426.00 L353.70,425.00 L355.00,424.10 L357.90,424.10 L358.90,423.10 L364.10,423.10 L364.80,422.20 L386.20,422.20 L386.20,420.20 L387.30,419.00 L389.60,419.00 L389.60,417.30 L395.40,417.30 L395.40,415.20 L466.40,415.20" fill="none" stroke="#70b551" stroke-width="1.1" stroke-linejoin="miter"/>
<path d="M326.50,436.60 L327.05,437.80 L327.40,438.70 L327.05,439.60 L326.50,440.80 L325.95,439.60 L325.60,438.70 L325.95,437.80Z" fill="#70b551"/>
<path d="M328.00,434.78 L328.55,435.98 L328.90,436.88 L328.55,437.78 L328.00,438.98 L327.45,437.78 L327.10,436.88 L327.45,435.98Z" fill="#70b551"/>
<path d="M330.00,434.37 L330.55,435.57 L330.90,436.47 L330.55,437.37 L330.00,438.57 L329.45,437.37 L329.10,436.47 L329.45,435.57Z" fill="#70b551"/>
<path d="M333.00,433.08 L333.55,434.28 L333.90,435.18 L333.55,436.08 L333.00,437.28 L332.45,436.08 L332.10,435.18 L332.45,434.28Z" fill="#70b551"/>
<path d="M338.50,430.67 L339.05,431.87 L339.40,432.77 L339.05,433.67 L338.50,434.87 L337.95,433.67 L337.60,432.77 L337.95,431.87Z" fill="#70b551"/>
<path d="M350.50,424.76 L351.05,425.96 L351.40,426.86 L351.05,427.76 L350.50,428.96 L349.95,427.76 L349.60,426.86 L349.95,425.96Z" fill="#70b551"/>
<path d="M353.00,423.17 L353.55,424.37 L353.90,425.27 L353.55,426.17 L353.00,427.37 L352.45,426.17 L352.10,425.27 L352.45,424.37Z" fill="#70b551"/>
<path d="M359.00,421.00 L359.55,422.20 L359.90,423.10 L359.55,424.00 L359.00,425.20 L358.45,424.00 L358.10,423.10 L358.45,422.20Z" fill="#70b551"/>
<path d="M362.00,421.00 L362.55,422.20 L362.90,423.10 L362.55,424.00 L362.00,425.20 L361.45,424.00 L361.10,423.10 L361.45,422.20Z" fill="#70b551"/>
<path d="M373.50,420.10 L374.05,421.30 L374.40,422.20 L374.05,423.10 L373.50,424.30 L372.95,423.10 L372.60,422.20 L372.95,421.30Z" fill="#70b551"/>
<path d="M374.50,420.10 L375.05,421.30 L375.40,422.20 L375.05,423.10 L374.50,424.30 L373.95,423.10 L373.60,422.20 L373.95,421.30Z" fill="#70b551"/>
<path d="M375.50,420.10 L376.05,421.30 L376.40,422.20 L376.05,423.10 L375.50,424.30 L374.95,423.10 L374.60,422.20 L374.95,421.30Z" fill="#70b551"/>
<path d="M382.00,420.10 L382.55,421.30 L382.90,422.20 L382.55,423.10 L382.00,424.30 L381.45,423.10 L381.10,422.20 L381.45,421.30Z" fill="#70b551"/>
<path d="M386.50,417.77 L387.05,418.97 L387.40,419.87 L387.05,420.77 L386.50,421.97 L385.95,420.77 L385.60,419.87 L385.95,418.97Z" fill="#70b551"/>
<path d="M401.50,413.10 L402.05,414.30 L402.40,415.20 L402.05,416.10 L401.50,417.30 L400.95,416.10 L400.60,415.20 L400.95,414.30Z" fill="#70b551"/>
<path d="M404.50,413.10 L405.05,414.30 L405.40,415.20 L405.05,416.10 L404.50,417.30 L403.95,416.10 L403.60,415.20 L403.95,414.30Z" fill="#70b551"/>
<path d="M415.00,413.10 L415.55,414.30 L415.90,415.20 L415.55,416.10 L415.00,417.30 L414.45,416.10 L414.10,415.20 L414.45,414.30Z" fill="#70b551"/>
<path d="M419.00,413.10 L419.55,414.30 L419.90,415.20 L419.55,416.10 L419.00,417.30 L418.45,416.10 L418.10,415.20 L418.45,414.30Z" fill="#70b551"/>
<path d="M426.00,413.10 L426.55,414.30 L426.90,415.20 L426.55,416.10 L426.00,417.30 L425.45,416.10 L425.10,415.20 L425.45,414.30Z" fill="#70b551"/>
<path d="M427.00,413.10 L427.55,414.30 L427.90,415.20 L427.55,416.10 L427.00,417.30 L426.45,416.10 L426.10,415.20 L426.45,414.30Z" fill="#70b551"/>
<path d="M434.50,413.10 L435.05,414.30 L435.40,415.20 L435.05,416.10 L434.50,417.30 L433.95,416.10 L433.60,415.20 L433.95,414.30Z" fill="#70b551"/>
<path d="M314.20,448.80 L325.40,448.80 L326.30,446.20 L327.10,443.90 L328.30,442.20 L330.00,440.50 L331.70,439.30 L333.50,438.40 L335.20,437.60 L336.90,436.70 L338.30,435.00 L340.00,433.20 L341.90,431.60 L342.90,430.30 L348.50,430.30 L351.10,429.90 L353.00,427.60 L358.90,427.40 L359.60,425.40 L364.10,425.20 L365.50,422.40 L366.10,418.80 L375.30,418.80 L375.30,416.20 L382.70,416.20 L382.70,413.00 L402.20,413.00 L402.20,409.90 L439.00,409.90 L440.00,407.30 L441.20,405.40 L466.40,405.40" fill="none" stroke="#e4931e" stroke-width="1.1" stroke-linejoin="miter"/>
<path d="M348.00,428.20 L348.55,429.40 L348.90,430.30 L348.55,431.20 L348.00,432.40 L347.45,431.20 L347.10,430.30 L347.45,429.40Z" fill="#e4931e"/>
<path d="M352.50,426.11 L353.05,427.31 L353.40,428.21 L353.05,429.11 L352.50,430.31 L351.95,429.11 L351.60,428.21 L351.95,427.31Z" fill="#e4931e"/>
<path d="M366.50,416.70 L367.05,417.90 L367.40,418.80 L367.05,419.70 L366.50,420.90 L365.95,419.70 L365.60,418.80 L365.95,417.90Z" fill="#e4931e"/>
<path d="M403.50,407.80 L404.05,409.00 L404.40,409.90 L404.05,410.80 L403.50,412.00 L402.95,410.80 L402.60,409.90 L402.95,409.00Z" fill="#e4931e"/>
<path d="M409.00,407.80 L409.55,409.00 L409.90,409.90 L409.55,410.80 L409.00,412.00 L408.45,410.80 L408.10,409.90 L408.45,409.00Z" fill="#e4931e"/>
<path d="M410.50,407.80 L411.05,409.00 L411.40,409.90 L411.05,410.80 L410.50,412.00 L409.95,410.80 L409.60,409.90 L409.95,409.00Z" fill="#e4931e"/>
<path d="M413.50,407.80 L414.05,409.00 L414.40,409.90 L414.05,410.80 L413.50,412.00 L412.95,410.80 L412.60,409.90 L412.95,409.00Z" fill="#e4931e"/>
<path d="M437.50,407.80 L438.05,409.00 L438.40,409.90 L438.05,410.80 L437.50,412.00 L436.95,410.80 L436.60,409.90 L436.95,409.00Z" fill="#e4931e"/>
<path d="M442.00,403.30 L442.55,404.50 L442.90,405.40 L442.55,406.30 L442.00,407.50 L441.45,406.30 L441.10,405.40 L441.45,404.50Z" fill="#e4931e"/>
<path d="M446.00,403.30 L446.55,404.50 L446.90,405.40 L446.55,406.30 L446.00,407.50 L445.45,406.30 L445.10,405.40 L445.45,404.50Z" fill="#e4931e"/>
<path d="M455.50,403.30 L456.05,404.50 L456.40,405.40 L456.05,406.30 L455.50,407.50 L454.95,406.30 L454.60,405.40 L454.95,404.50Z" fill="#e4931e"/>
<path d="M464.50,403.30 L465.05,404.50 L465.40,405.40 L465.05,406.30 L464.50,407.50 L463.95,406.30 L463.60,405.40 L463.95,404.50Z" fill="#e4931e"/>
<text transform="translate(215.41,43.80) scale(0.9579,1)" font-size="8.05" fill="#1a1a1a" stroke="#1a1a1a" stroke-width="0.17">2-year OS</text>
<text transform="translate(215.43,56.00) scale(0.9927,1)" font-size="8.05" fill="#1a1a1a" stroke="#1a1a1a" stroke-width="0.17">92.7%</text>
<text transform="translate(215.29,79.90) scale(1.0032,1)" font-size="8.05" fill="#1a1a1a" stroke="#1a1a1a" stroke-width="0.17">68.8%</text>
<text transform="translate(215.29,96.60) scale(1.0032,1)" font-size="8.05" fill="#1a1a1a" stroke="#1a1a1a" stroke-width="0.17">65.4%</text>
<text transform="translate(215.39,118.20) scale(0.9986,1)" font-size="8.05" fill="#1a1a1a" stroke="#1a1a1a" stroke-width="0.17">34.1%</text>
<text transform="translate(186.93,132.10) scale(1.0847,1)" font-size="8.05" font-style="italic" fill="#1a1a1a" stroke="#1a1a1a" stroke-width="0.17">P</text>
<rect x="194.30" y="128.50" width="6.00" height="2.6" fill="#555"/>
<text transform="translate(201.81,132.10) scale(0.9751,1)" font-size="8.05" fill="#1a1a1a" stroke="#1a1a1a" stroke-width="0.17">2.01</text>
<circle cx="219.40" cy="129.44" r="1.15" fill="#1a1a1a"/>
<text transform="translate(222.92,132.10) scale(1.1088,1)" font-size="8.05" fill="#1a1a1a" stroke="#1a1a1a" stroke-width="0.17">10</text>
<text x="233.46" y="130.00" font-size="5.0" fill="#333" stroke="#333" stroke-width="0.05">9</text>
<rect x="232.19" y="128.10" width="1.2" height="0.5" fill="#888"/>
<text transform="translate(466.82,55.10) scale(0.9336,1)" font-size="8.05" fill="#1a1a1a" stroke="#1a1a1a" stroke-width="0.17">2-year DFS</text>
<text transform="translate(466.85,68.90) scale(1.0050,1)" font-size="8.05" fill="#1a1a1a" stroke="#1a1a1a" stroke-width="0.17">86.0%</text>
<text transform="translate(466.89,83.50) scale(0.9898,1)" font-size="8.05" fill="#1a1a1a" stroke="#1a1a1a" stroke-width="0.17">74.7%</text>
<text transform="translate(466.58,103.10) scale(1.0038,1)" font-size="8.05" fill="#1a1a1a" stroke="#1a1a1a" stroke-width="0.17">59.6%</text>
<text transform="translate(466.72,127.20) scale(0.9976,1)" font-size="8.05" fill="#1a1a1a" stroke="#1a1a1a" stroke-width="0.17">40.1%</text>
<text transform="translate(446.19,140.10) scale(1.2425,1)" font-size="8.05" font-style="italic" fill="#1a1a1a" stroke="#1a1a1a" stroke-width="0.17">P</text>
<rect x="454.00" y="136.50" width="4.30" height="2.6" fill="#555"/>
<text transform="translate(460.00,140.10) scale(1.0642,1)" font-size="8.05" fill="#1a1a1a" stroke="#1a1a1a" stroke-width="0.17">4.43</text>
<circle cx="480.00" cy="137.44" r="1.15" fill="#1a1a1a"/>
<text transform="translate(482.97,140.10) scale(1.1836,1)" font-size="8.05" fill="#1a1a1a" stroke="#1a1a1a" stroke-width="0.17">10</text>
<text x="494.67" y="138.00" font-size="5.0" fill="#333" stroke="#333" stroke-width="0.05">7</text>
<rect x="493.43" y="136.10" width="1.2" height="0.5" fill="#888"/>
<text transform="translate(205.68,322.90) scale(0.9701,1)" font-size="8.55" fill="#1a1a1a" stroke="#1a1a1a" stroke-width="0.17">2-year OS</text>
<text transform="translate(205.52,337.50) scale(1.0184,1)" font-size="8.55" fill="#1a1a1a" stroke="#1a1a1a" stroke-width="0.17">89.9%</text>
<text transform="translate(206.86,351.50) scale(1.0085,1)" font-size="8.55" fill="#1a1a1a" stroke="#1a1a1a" stroke-width="0.17">78.7%</text>
<text transform="translate(205.56,375.00) scale(1.0126,1)" font-size="8.55" fill="#1a1a1a" stroke="#1a1a1a" stroke-width="0.17">65.7%</text>
<text transform="translate(205.80,396.80) scale(1.0024,1)" font-size="8.55" fill="#1a1a1a" stroke="#1a1a1a" stroke-width="0.17">45.6%</text>
<text transform="translate(179.42,424.20) scale(1.0584,1)" font-size="8.55" font-style="italic" fill="#1a1a1a" stroke="#1a1a1a" stroke-width="0.17">P</text>
<rect x="187.40" y="420.60" width="5.10" height="2.6" fill="#555"/>
<text transform="translate(195.05,424.20) scale(1.0111,1)" font-size="8.55" fill="#1a1a1a" stroke="#1a1a1a" stroke-width="0.17">5.86</text>
<circle cx="216.55" cy="421.38" r="1.15" fill="#1a1a1a"/>
<text transform="translate(219.56,424.20) scale(1.1378,1)" font-size="8.55" fill="#1a1a1a" stroke="#1a1a1a" stroke-width="0.17">10</text>
<text x="232.04" y="422.10" font-size="5.0" fill="#333" stroke="#333" stroke-width="0.05">6</text>
<rect x="230.79" y="420.20" width="1.2" height="0.5" fill="#888"/>
<text transform="translate(443.72,368.70) scale(1.1439,1)" font-size="8.05" font-style="italic" fill="#1a1a1a" stroke="#1a1a1a" stroke-width="0.17">P</text>
<rect x="450.90" y="365.10" width="5.30" height="2.6" fill="#555"/>
<text transform="translate(457.53,368.70) scale(1.0452,1)" font-size="8.05" fill="#1a1a1a" stroke="#1a1a1a" stroke-width="0.17">8.21</text>
<circle cx="477.70" cy="366.04" r="1.15" fill="#1a1a1a"/>
<text transform="translate(480.75,368.70) scale(1.2210,1)" font-size="8.05" fill="#1a1a1a" stroke="#1a1a1a" stroke-width="0.17">10</text>
<text x="492.43" y="366.60" font-size="5.0" fill="#333" stroke="#333" stroke-width="0.05">5</text>
<rect x="491.13" y="364.70" width="1.2" height="0.5" fill="#888"/>
<text transform="translate(471.61,396.50) scale(0.9522,1)" font-size="8.05" fill="#1a1a1a" stroke="#1a1a1a" stroke-width="0.17">2-year NRM</text>
<text transform="translate(476.10,408.20) scale(0.9940,1)" font-size="8.05" fill="#1a1a1a" stroke="#1a1a1a" stroke-width="0.17">23.7%</text>
<text transform="translate(476.80,418.80) scale(0.9759,1)" font-size="8.05" fill="#1a1a1a" stroke="#1a1a1a" stroke-width="0.17">20.8%</text>
<text transform="translate(475.83,431.20) scale(0.9783,1)" font-size="8.05" fill="#1a1a1a" stroke="#1a1a1a" stroke-width="0.17">9.8%</text>
<text transform="translate(475.62,447.00) scale(0.9514,1)" font-size="8.05" fill="#1a1a1a" stroke="#1a1a1a" stroke-width="0.17">1.6%</text>
<text transform="translate(62.29,218.90) scale(0.9864,1)" font-size="7.60" fill="#1a1a1a" stroke="#1a1a1a" stroke-width="0.17">Disease Risk / NK cell Recovery</text>
<line x1="49.0" y1="228.4" x2="59.1" y2="228.4" stroke="#233f80" stroke-width="1.2"/>
<text transform="translate(62.28,231.00) scale(0.9937,1)" font-size="7.60" fill="#233f80" stroke="#233f80" stroke-width="0.06">Disease Risk (Standard) / NK cell Recovery (+)</text>
<line x1="49.0" y1="240.2" x2="59.1" y2="240.2" stroke="#70b551" stroke-width="1.2"/>
<text transform="translate(62.28,242.80) scale(0.9898,1)" font-size="7.60" fill="#70b551" stroke="#70b551" stroke-width="0.06">Disease Risk (Standard) / NK cell Recovery (-)</text>
<line x1="49.0" y1="251.9" x2="59.1" y2="251.9" stroke="#b8173f" stroke-width="1.2"/>
<text transform="translate(62.28,254.50) scale(0.9945,1)" font-size="7.60" fill="#b8173f" stroke="#b8173f" stroke-width="0.06">Disease Risk (High) / NK cell Recovery (+)</text>
<line x1="49.0" y1="263.9" x2="59.1" y2="263.9" stroke="#e4931e" stroke-width="1.2"/>
<text transform="translate(62.28,266.50) scale(0.9873,1)" font-size="7.60" fill="#e4931e" stroke="#e4931e" stroke-width="0.06">Disease Risk (High) / NK cell Recovery (-)</text>
<text transform="translate(320.48,218.90) scale(0.9887,1)" font-size="7.60" fill="#1a1a1a" stroke="#1a1a1a" stroke-width="0.17">Disease Risk / NK cell Recovery</text>
<line x1="303.7" y1="228.4" x2="317.5" y2="228.4" stroke="#233f80" stroke-width="1.2"/>
<text transform="translate(320.48,231.00) scale(0.9962,1)" font-size="7.60" fill="#233f80" stroke="#233f80" stroke-width="0.06">Disease Risk (Standard) / NK cell Recovery (+)</text>
<line x1="303.7" y1="240.2" x2="317.5" y2="240.2" stroke="#70b551" stroke-width="1.2"/>
<text transform="translate(320.48,242.80) scale(0.9917,1)" font-size="7.60" fill="#70b551" stroke="#70b551" stroke-width="0.06">Disease Risk (Standard) / NK cell Recovery (-)</text>
<line x1="303.7" y1="251.9" x2="317.5" y2="251.9" stroke="#b8173f" stroke-width="1.2"/>
<text transform="translate(320.48,254.50) scale(0.9980,1)" font-size="7.60" fill="#b8173f" stroke="#b8173f" stroke-width="0.06">Disease Risk (High) / NK cell Recovery (+)</text>
<line x1="303.7" y1="263.9" x2="317.5" y2="263.9" stroke="#e4931e" stroke-width="1.2"/>
<text transform="translate(320.48,266.50) scale(0.9930,1)" font-size="7.60" fill="#e4931e" stroke="#e4931e" stroke-width="0.06">Disease Risk (High) / NK cell Recovery (-)</text>
<text transform="translate(83.38,499.50) scale(0.9959,1)" font-size="7.60" fill="#1a1a1a" stroke="#1a1a1a" stroke-width="0.17">HCT-CI / B cell Recovery</text>
<line x1="66.9" y1="508.4" x2="80.6" y2="508.4" stroke="#233f80" stroke-width="1.2"/>
<text transform="translate(83.37,511.00) scale(1.0083,1)" font-size="7.60" fill="#233f80" stroke="#233f80" stroke-width="0.06">HCT-CI (0-2) / B cell Recovery (+)</text>
<line x1="66.9" y1="520.5" x2="80.6" y2="520.5" stroke="#70b551" stroke-width="1.2"/>
<text transform="translate(83.38,522.90) scale(1.0023,1)" font-size="7.60" fill="#70b551" stroke="#70b551" stroke-width="0.06">HCT-CI (0-2) / B cell Recovery (-)</text>
<line x1="66.9" y1="532.5" x2="80.6" y2="532.5" stroke="#b8173f" stroke-width="1.2"/>
<text transform="translate(83.37,534.80) scale(1.0111,1)" font-size="7.60" fill="#b8173f" stroke="#b8173f" stroke-width="0.06">HCT-CI (≥3) / B cell Recovery (+)</text>
<line x1="66.9" y1="544.3" x2="80.6" y2="544.3" stroke="#e4931e" stroke-width="1.2"/>
<text transform="translate(83.38,546.50) scale(1.0022,1)" font-size="7.60" fill="#e4931e" stroke="#e4931e" stroke-width="0.06">HCT-CI (≥3) / B cell Recovery (-)</text>
<text transform="translate(321.38,499.50) scale(0.9971,1)" font-size="7.60" fill="#1a1a1a" stroke="#1a1a1a" stroke-width="0.17">HCT-CI / B cell Recovery</text>
<line x1="304.9" y1="508.4" x2="318.4" y2="508.4" stroke="#233f80" stroke-width="1.2"/>
<text transform="translate(321.37,511.00) scale(1.0066,1)" font-size="7.60" fill="#233f80" stroke="#233f80" stroke-width="0.06">HCT-CI (0-2) / B cell Recovery (+)</text>
<line x1="304.9" y1="520.5" x2="318.4" y2="520.5" stroke="#70b551" stroke-width="1.2"/>
<text transform="translate(321.38,522.90) scale(0.9969,1)" font-size="7.60" fill="#70b551" stroke="#70b551" stroke-width="0.06">HCT-CI (0-2) / B cell Recovery (-)</text>
<line x1="304.9" y1="532.5" x2="318.4" y2="532.5" stroke="#b8173f" stroke-width="1.2"/>
<text transform="translate(321.37,534.80) scale(1.0093,1)" font-size="7.60" fill="#b8173f" stroke="#b8173f" stroke-width="0.06">HCT-CI (≥3) / B cell Recovery (+)</text>
<line x1="304.9" y1="544.3" x2="318.4" y2="544.3" stroke="#e4931e" stroke-width="1.2"/>
<text transform="translate(321.38,546.50) scale(0.9994,1)" font-size="7.60" fill="#e4931e" stroke="#e4931e" stroke-width="0.06">HCT-CI (≥3) / B cell Recovery (-)</text>
</svg></body></html>
